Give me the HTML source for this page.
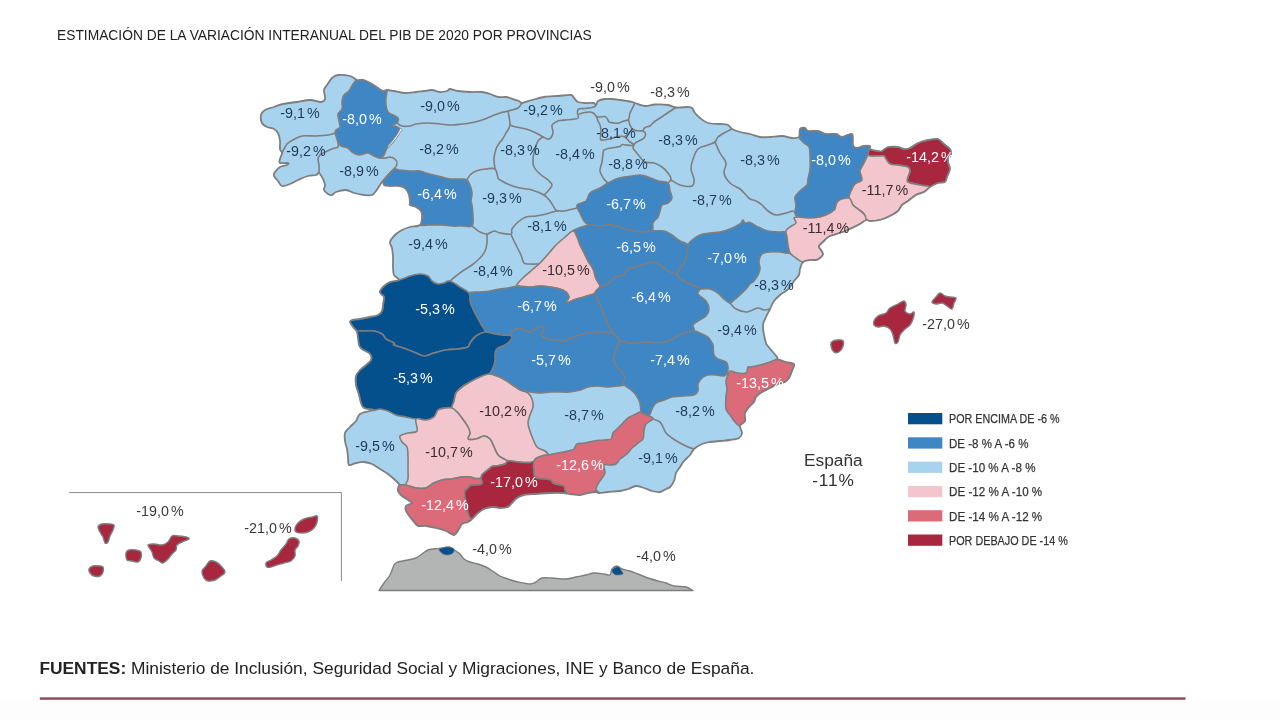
<!DOCTYPE html>
<html><head><meta charset="utf-8"><title>PIB 2020</title>
<style>
html,body{margin:0;padding:0;background:#fff;}
body{width:1280px;height:720px;overflow:hidden;position:relative;font-family:"Liberation Sans",sans-serif;}
svg{position:absolute;left:0;top:0;will-change:transform;}
text{font-family:"Liberation Sans",sans-serif;}
</style></head><body>
<svg width="1280" height="720" viewBox="0 0 1280 720">

<rect x="0" y="701" width="1280" height="19" fill="#fdfdfd"/>
<defs><clipPath id="land"><path d="M332.0,78.0C333.8,76.3 335.0,75.3 338.0,75.0C341.0,74.7 346.8,75.2 350.0,76.0C353.2,76.8 354.7,79.3 357.0,80.0C359.3,80.7 361.5,79.3 364.0,80.0C366.5,80.7 369.7,82.7 372.0,84.0C374.3,85.3 376.2,86.8 378.0,88.0C379.8,89.2 381.5,90.7 383.0,91.0C384.5,91.3 385.2,90.0 387.0,90.0C388.8,90.0 391.2,90.5 394.0,91.0C396.8,91.5 400.3,92.8 404.0,93.0C407.7,93.2 412.7,92.3 416.0,92.0C419.3,91.7 421.3,91.3 424.0,91.0C426.7,90.7 429.3,89.8 432.0,90.0C434.7,90.2 437.5,91.8 440.0,92.0C442.5,92.2 445.3,91.5 447.0,91.0C448.7,90.5 448.2,89.0 450.0,89.0C451.8,89.0 454.7,90.5 458.0,91.0C461.3,91.5 466.0,91.8 470.0,92.0C474.0,92.2 478.7,91.7 482.0,92.0C485.3,92.3 487.3,93.2 490.0,94.0C492.7,94.8 495.3,96.5 498.0,97.0C500.7,97.5 504.0,96.8 506.0,97.0C508.0,97.2 507.8,97.3 510.0,98.0C512.2,98.7 517.0,100.2 519.0,101.0C521.0,101.8 519.8,103.2 522.0,103.0C524.2,102.8 528.3,101.0 532.0,100.0C535.7,99.0 539.7,97.7 544.0,97.0C548.3,96.3 553.5,96.3 558.0,96.0C562.5,95.7 568.3,94.7 571.0,95.0C573.7,95.3 572.8,96.8 574.0,98.0C575.2,99.2 576.2,101.2 578.0,102.0C579.8,102.8 582.4,102.8 585.0,103.0C587.6,103.2 591.7,102.7 593.5,103.0C595.3,103.3 595.2,105.3 596.0,105.0C596.8,104.7 596.5,102.0 598.0,101.0C599.5,100.0 602.7,99.3 605.0,99.0C607.3,98.7 609.5,98.8 612.0,99.0C614.5,99.2 617.0,99.6 620.0,100.0C623.0,100.4 627.5,101.0 630.0,101.5C632.5,102.0 632.5,102.2 635.0,103.0C637.5,103.8 641.7,105.8 645.0,106.0C648.3,106.2 651.2,104.7 655.0,104.5C658.8,104.3 664.4,104.5 668.0,105.0C671.6,105.5 673.2,107.2 676.5,107.5C679.8,107.8 685.4,106.9 688.0,107.0C690.6,107.1 690.8,107.0 692.0,108.0C693.2,109.0 693.7,111.3 695.0,113.0C696.3,114.7 697.8,116.3 700.0,118.0C702.2,119.7 704.7,122.0 708.0,123.0C711.3,124.0 716.7,123.7 720.0,124.0C723.3,124.3 726.0,124.2 728.0,125.0C730.0,125.8 730.0,127.8 732.0,129.0C734.0,130.2 737.0,131.2 740.0,132.0C743.0,132.8 746.7,133.2 750.0,134.0C753.3,134.8 756.7,136.5 760.0,137.0C763.3,137.5 766.3,137.2 770.0,137.0C773.7,136.8 778.3,135.8 782.0,136.0C785.7,136.2 789.2,137.8 792.0,138.0C794.8,138.2 797.7,138.5 799.0,137.0C800.3,135.5 799.0,130.5 800.0,129.0C801.0,127.5 803.7,127.7 805.0,128.0C806.3,128.3 805.8,130.5 808.0,131.0C810.2,131.5 815.0,130.5 818.0,131.0C821.0,131.5 823.0,133.5 826.0,134.0C829.0,134.5 833.3,133.5 836.0,134.0C838.7,134.5 839.3,137.0 842.0,137.0C844.7,137.0 850.2,132.7 852.0,134.0C853.8,135.3 852.3,142.7 853.0,145.0C853.7,147.3 854.2,147.8 856.0,148.0C857.8,148.2 861.7,146.3 864.0,146.0C866.3,145.7 869.0,145.5 870.0,146.0C871.0,146.5 868.7,148.2 870.0,149.0C871.3,149.8 876.0,150.7 878.0,151.0C880.0,151.3 880.3,151.7 882.0,151.0C883.7,150.3 885.3,147.7 888.0,147.0C890.7,146.3 895.3,146.7 898.0,147.0C900.7,147.3 902.0,148.8 904.0,149.0C906.0,149.2 907.7,149.0 910.0,148.0C912.3,147.0 915.0,144.3 918.0,143.0C921.0,141.7 924.7,140.7 928.0,140.0C931.3,139.3 935.3,138.3 938.0,139.0C940.7,139.7 942.0,142.3 944.0,144.0C946.0,145.7 948.8,147.3 950.0,149.0C951.2,150.7 951.3,152.0 951.0,154.0C950.7,156.0 948.2,158.5 948.0,161.0C947.8,163.5 950.2,166.3 950.0,169.0C949.8,171.7 947.8,174.8 947.0,177.0C946.2,179.2 946.5,181.0 945.0,182.0C943.5,183.0 940.5,182.2 938.0,183.0C935.5,183.8 932.3,185.5 930.0,187.0C927.7,188.5 926.3,190.7 924.0,192.0C921.7,193.3 918.7,193.5 916.0,195.0C913.3,196.5 910.3,199.3 908.0,201.0C905.7,202.7 903.7,203.3 902.0,205.0C900.3,206.7 900.0,209.2 898.0,211.0C896.0,212.8 893.0,214.5 890.0,216.0C887.0,217.5 883.3,219.2 880.0,220.0C876.7,220.8 872.3,221.0 870.0,221.0C867.7,221.0 867.7,219.5 866.0,220.0C864.3,220.5 862.7,222.5 860.0,224.0C857.3,225.5 853.3,227.5 850.0,229.0C846.7,230.5 843.3,231.8 840.0,233.0C836.7,234.2 832.7,234.7 830.0,236.0C827.3,237.3 825.8,239.3 824.0,241.0C822.2,242.7 819.5,244.5 819.0,246.0C818.5,247.5 820.3,248.7 821.0,250.0C821.7,251.3 823.2,252.7 823.0,254.0C822.8,255.3 821.2,257.0 820.0,258.0C818.8,259.0 817.7,259.7 816.0,260.0C814.3,260.3 812.2,259.7 810.0,260.0C807.8,260.3 804.7,260.5 803.0,262.0C801.3,263.5 800.7,266.8 800.0,269.0C799.3,271.2 800.0,273.0 799.0,275.0C798.0,277.0 795.5,279.0 794.0,281.0C792.5,283.0 791.3,285.3 790.0,287.0C788.7,288.7 787.7,289.7 786.0,291.0C784.3,292.3 782.0,293.3 780.0,295.0C778.0,296.7 775.7,298.7 774.0,301.0C772.3,303.3 771.3,306.3 770.0,309.0C768.7,311.7 767.2,314.3 766.0,317.0C764.8,319.7 763.3,322.0 763.0,325.0C762.7,328.0 763.5,332.0 764.0,335.0C764.5,338.0 765.5,341.3 766.0,343.0C766.5,344.7 766.0,343.7 767.0,345.0C768.0,346.3 770.3,349.0 772.0,351.0C773.7,353.0 776.0,355.6 777.0,357.0C778.0,358.4 776.5,358.6 778.0,359.4C779.5,360.2 783.3,361.2 786.0,362.0C788.7,362.8 793.0,362.5 794.0,364.0C795.0,365.5 792.8,368.7 792.0,371.0C791.2,373.3 790.2,376.2 789.0,378.0C787.8,379.8 786.8,381.0 785.0,382.0C783.2,383.0 780.5,383.0 778.0,384.0C775.5,385.0 772.7,386.7 770.0,388.0C767.3,389.3 764.3,390.5 762.0,392.0C759.7,393.5 757.3,395.3 756.0,397.0C754.7,398.7 755.0,400.5 754.0,402.0C753.0,403.5 751.5,404.2 750.0,406.0C748.5,407.8 745.8,410.5 745.0,413.0C744.2,415.5 745.8,418.8 745.0,421.0C744.2,423.2 740.5,424.0 740.0,426.0C739.5,428.0 742.2,431.0 742.0,433.0C741.8,435.0 741.0,436.8 739.0,438.0C737.0,439.2 733.2,439.5 730.0,440.0C726.8,440.5 723.3,440.7 720.0,441.0C716.7,441.3 713.0,441.5 710.0,442.0C707.0,442.5 704.7,442.8 702.0,444.0C699.3,445.2 696.0,447.2 694.0,449.0C692.0,450.8 691.7,453.0 690.0,455.0C688.3,457.0 685.7,459.0 684.0,461.0C682.3,463.0 681.3,465.0 680.0,467.0C678.7,469.0 677.0,470.7 676.0,473.0C675.0,475.3 675.0,478.7 674.0,481.0C673.0,483.3 671.3,485.7 670.0,487.0C668.7,488.3 667.7,488.2 666.0,489.0C664.3,489.8 662.3,491.7 660.0,492.0C657.7,492.3 654.7,491.7 652.0,491.0C649.3,490.3 646.7,488.8 644.0,488.0C641.3,487.2 638.7,485.8 636.0,486.0C633.3,486.2 630.7,488.2 628.0,489.0C625.3,489.8 623.3,490.5 620.0,491.0C616.7,491.5 611.5,491.7 608.0,492.0C604.5,492.3 601.0,493.0 599.0,493.0C597.0,493.0 597.8,492.0 596.0,492.0C594.2,492.0 590.7,492.5 588.0,493.0C585.3,493.5 583.0,494.8 580.0,495.0C577.0,495.2 572.7,494.3 570.0,494.0C567.3,493.7 567.3,493.2 564.0,493.0C560.7,492.8 554.7,492.8 550.0,493.0C545.3,493.2 540.3,493.7 536.0,494.0C531.7,494.3 527.2,494.3 524.0,495.0C520.8,495.7 519.0,496.7 517.0,498.0C515.0,499.3 513.5,501.5 512.0,503.0C510.5,504.5 510.0,506.2 508.0,507.0C506.0,507.8 502.7,508.0 500.0,508.0C497.3,508.0 494.7,506.8 492.0,507.0C489.3,507.2 486.3,508.0 484.0,509.0C481.7,510.0 480.0,511.3 478.0,513.0C476.0,514.7 473.7,517.5 472.0,519.0C470.3,520.5 469.7,521.2 468.0,522.0C466.3,522.8 463.5,522.8 462.0,524.0C460.5,525.2 460.3,527.2 459.0,529.0C457.7,530.8 456.2,534.7 454.0,535.0C451.8,535.3 449.0,532.2 446.0,531.0C443.0,529.8 439.3,528.8 436.0,528.0C432.7,527.2 429.0,526.3 426.0,526.0C423.0,525.7 420.0,526.7 418.0,526.0C416.0,525.3 415.3,523.5 414.0,522.0C412.7,520.5 411.3,518.8 410.0,517.0C408.7,515.2 406.7,512.8 406.0,511.0C405.3,509.2 405.0,507.3 406.0,506.0C407.0,504.7 411.7,504.0 412.0,503.0C412.3,502.0 409.7,501.2 408.0,500.0C406.3,498.8 403.7,497.5 402.0,496.0C400.3,494.5 398.5,492.8 398.0,491.0C397.5,489.2 398.7,486.0 399.0,485.0C399.3,484.0 400.8,486.0 400.0,485.0C399.2,484.0 396.0,480.8 394.0,479.0C392.0,477.2 390.3,475.7 388.0,474.0C385.7,472.3 382.7,470.7 380.0,469.0C377.3,467.3 374.7,465.2 372.0,464.0C369.3,462.8 366.7,462.2 364.0,462.0C361.3,461.8 358.5,462.5 356.0,463.0C353.5,463.5 350.3,466.0 349.0,465.0C347.7,464.0 348.3,459.7 348.0,457.0C347.7,454.3 347.5,451.7 347.0,449.0C346.5,446.3 345.3,443.7 345.0,441.0C344.7,438.3 344.2,435.3 345.0,433.0C345.8,430.7 348.2,429.0 350.0,427.0C351.8,425.0 354.3,423.2 356.0,421.0C357.7,418.8 357.7,415.7 360.0,414.0C362.3,412.3 367.7,411.7 370.0,411.0C372.3,410.3 375.0,410.5 374.0,410.0C373.0,409.5 366.2,409.2 364.0,408.0C361.8,406.8 361.8,405.2 361.0,403.0C360.2,400.8 359.8,398.0 359.0,395.0C358.2,392.0 356.5,388.2 356.0,385.0C355.5,381.8 355.3,378.5 356.0,376.0C356.7,373.5 358.3,371.8 360.0,370.0C361.7,368.2 364.2,366.7 366.0,365.0C367.8,363.3 370.3,361.8 371.0,360.0C371.7,358.2 371.5,355.8 370.0,354.0C368.5,352.2 363.8,350.5 362.0,349.0C360.2,347.5 359.8,347.8 359.0,345.0C358.2,342.2 358.0,335.0 357.0,332.0C356.0,329.0 354.2,328.7 353.0,327.0C351.8,325.3 350.2,323.2 350.0,322.0C349.8,320.8 350.3,320.5 352.0,320.0C353.7,319.5 357.0,319.5 360.0,319.0C363.0,318.5 367.0,317.7 370.0,317.0C373.0,316.3 376.0,316.0 378.0,315.0C380.0,314.0 381.2,312.7 382.0,311.0C382.8,309.3 382.7,307.3 383.0,305.0C383.3,302.7 384.3,298.8 384.0,297.0C383.7,295.2 381.7,295.0 381.0,294.0C380.3,293.0 379.5,292.3 380.0,291.0C380.5,289.7 382.3,287.5 384.0,286.0C385.7,284.5 387.5,283.0 390.0,282.0C392.5,281.0 398.3,281.2 399.0,280.0C399.7,278.8 395.0,277.2 394.0,275.0C393.0,272.8 393.2,270.0 393.0,267.0C392.8,264.0 393.2,260.2 393.0,257.0C392.8,253.8 392.5,250.5 392.0,248.0C391.5,245.5 389.5,244.2 390.0,242.0C390.5,239.8 393.0,237.0 395.0,235.0C397.0,233.0 399.5,231.3 402.0,230.0C404.5,228.7 407.0,227.8 410.0,227.0C413.0,226.2 418.0,226.7 420.0,225.0C422.0,223.3 421.8,219.3 422.0,217.0C422.2,214.7 422.0,212.7 421.0,211.0C420.0,209.3 417.8,208.0 416.0,207.0C414.2,206.0 411.0,205.7 410.0,205.0C409.0,204.3 410.2,204.7 410.0,203.0C409.8,201.3 409.7,197.3 409.0,195.0C408.3,192.7 407.5,190.5 406.0,189.0C404.5,187.5 402.7,186.5 400.0,186.0C397.3,185.5 392.7,186.2 390.0,186.0C387.3,185.8 385.2,185.8 384.0,185.0C382.8,184.2 383.7,181.0 383.0,181.0C382.3,181.0 381.2,183.3 380.0,185.0C378.8,186.7 377.3,189.3 376.0,191.0C374.7,192.7 374.0,194.3 372.0,195.0C370.0,195.7 367.0,195.3 364.0,195.0C361.0,194.7 357.0,193.8 354.0,193.0C351.0,192.2 349.0,190.2 346.0,190.0C343.0,189.8 338.3,191.2 336.0,192.0C333.7,192.8 333.3,194.7 332.0,195.0C330.7,195.3 329.3,194.8 328.0,194.0C326.7,193.2 324.5,191.5 324.0,190.0C323.5,188.5 325.2,186.8 325.0,185.0C324.8,183.2 324.0,181.0 323.0,179.0C322.0,177.0 320.2,173.7 319.0,173.0C317.8,172.3 317.8,174.5 316.0,175.0C314.2,175.5 311.0,175.2 308.0,176.0C305.0,176.8 301.0,178.7 298.0,180.0C295.0,181.3 292.7,183.0 290.0,184.0C287.3,185.0 284.0,186.5 282.0,186.0C280.0,185.5 279.3,182.7 278.0,181.0C276.7,179.3 274.5,177.5 274.0,176.0C273.5,174.5 274.0,173.5 275.0,172.0C276.0,170.5 278.0,168.2 280.0,167.0C282.0,165.8 285.7,165.7 287.0,165.0C288.3,164.3 289.2,163.3 288.0,163.0C286.8,162.7 281.3,163.7 280.0,163.0C278.7,162.3 279.7,160.7 280.0,159.0C280.3,157.3 282.0,154.7 282.0,153.0C282.0,151.3 280.3,151.0 280.0,149.0C279.7,147.0 280.3,143.7 280.0,141.0C279.7,138.3 279.0,135.0 278.0,133.0C277.0,131.0 275.8,130.0 274.0,129.0C272.2,128.0 269.0,128.0 267.0,127.0C265.0,126.0 263.0,125.0 262.0,123.0C261.0,121.0 260.5,117.2 261.0,115.0C261.5,112.8 262.8,111.3 265.0,110.0C267.2,108.7 271.0,108.0 274.0,107.0C277.0,106.0 279.2,104.8 283.0,104.0C286.8,103.2 292.5,102.7 297.0,102.0C301.5,101.3 306.0,100.0 310.0,100.0C314.0,100.0 318.5,102.2 321.0,102.0C323.5,101.8 324.5,101.0 325.0,99.0C325.5,97.0 323.7,92.3 324.0,90.0C324.3,87.7 325.7,87.0 327.0,85.0C328.3,83.0 330.2,79.7 332.0,78.0Z"/></clipPath></defs>
<g clip-path="url(#land)" stroke="#7e7e7e" stroke-width="1.6" stroke-linejoin="round" stroke-linecap="round">
<path d="M332.0,78.0C333.8,76.3 335.0,75.3 338.0,75.0C341.0,74.7 346.8,75.2 350.0,76.0C353.2,76.8 354.7,79.3 357.0,80.0C359.3,80.7 361.5,79.3 364.0,80.0C366.5,80.7 369.7,82.7 372.0,84.0C374.3,85.3 376.2,86.8 378.0,88.0C379.8,89.2 381.5,90.7 383.0,91.0C384.5,91.3 385.2,90.0 387.0,90.0C388.8,90.0 391.2,90.5 394.0,91.0C396.8,91.5 400.3,92.8 404.0,93.0C407.7,93.2 412.7,92.3 416.0,92.0C419.3,91.7 421.3,91.3 424.0,91.0C426.7,90.7 429.3,89.8 432.0,90.0C434.7,90.2 437.5,91.8 440.0,92.0C442.5,92.2 445.3,91.5 447.0,91.0C448.7,90.5 448.2,89.0 450.0,89.0C451.8,89.0 454.7,90.5 458.0,91.0C461.3,91.5 466.0,91.8 470.0,92.0C474.0,92.2 478.7,91.7 482.0,92.0C485.3,92.3 487.3,93.2 490.0,94.0C492.7,94.8 495.3,96.5 498.0,97.0C500.7,97.5 504.0,96.8 506.0,97.0C508.0,97.2 507.8,97.3 510.0,98.0C512.2,98.7 517.0,100.2 519.0,101.0C521.0,101.8 519.8,103.2 522.0,103.0C524.2,102.8 528.3,101.0 532.0,100.0C535.7,99.0 539.7,97.7 544.0,97.0C548.3,96.3 553.5,96.3 558.0,96.0C562.5,95.7 568.3,94.7 571.0,95.0C573.7,95.3 572.8,96.8 574.0,98.0C575.2,99.2 576.2,101.2 578.0,102.0C579.8,102.8 582.4,102.8 585.0,103.0C587.6,103.2 591.7,102.7 593.5,103.0C595.3,103.3 595.2,105.3 596.0,105.0C596.8,104.7 596.5,102.0 598.0,101.0C599.5,100.0 602.7,99.3 605.0,99.0C607.3,98.7 609.5,98.8 612.0,99.0C614.5,99.2 617.0,99.6 620.0,100.0C623.0,100.4 627.5,101.0 630.0,101.5C632.5,102.0 632.5,102.2 635.0,103.0C637.5,103.8 641.7,105.8 645.0,106.0C648.3,106.2 651.2,104.7 655.0,104.5C658.8,104.3 664.4,104.5 668.0,105.0C671.6,105.5 673.2,107.2 676.5,107.5C679.8,107.8 685.4,106.9 688.0,107.0C690.6,107.1 690.8,107.0 692.0,108.0C693.2,109.0 693.7,111.3 695.0,113.0C696.3,114.7 697.8,116.3 700.0,118.0C702.2,119.7 704.7,122.0 708.0,123.0C711.3,124.0 716.7,123.7 720.0,124.0C723.3,124.3 726.0,124.2 728.0,125.0C730.0,125.8 730.0,127.8 732.0,129.0C734.0,130.2 737.0,131.2 740.0,132.0C743.0,132.8 746.7,133.2 750.0,134.0C753.3,134.8 756.7,136.5 760.0,137.0C763.3,137.5 766.3,137.2 770.0,137.0C773.7,136.8 778.3,135.8 782.0,136.0C785.7,136.2 789.2,137.8 792.0,138.0C794.8,138.2 797.7,138.5 799.0,137.0C800.3,135.5 799.0,130.5 800.0,129.0C801.0,127.5 803.7,127.7 805.0,128.0C806.3,128.3 805.8,130.5 808.0,131.0C810.2,131.5 815.0,130.5 818.0,131.0C821.0,131.5 823.0,133.5 826.0,134.0C829.0,134.5 833.3,133.5 836.0,134.0C838.7,134.5 839.3,137.0 842.0,137.0C844.7,137.0 850.2,132.7 852.0,134.0C853.8,135.3 852.3,142.7 853.0,145.0C853.7,147.3 854.2,147.8 856.0,148.0C857.8,148.2 861.7,146.3 864.0,146.0C866.3,145.7 869.0,145.5 870.0,146.0C871.0,146.5 868.7,148.2 870.0,149.0C871.3,149.8 876.0,150.7 878.0,151.0C880.0,151.3 880.3,151.7 882.0,151.0C883.7,150.3 885.3,147.7 888.0,147.0C890.7,146.3 895.3,146.7 898.0,147.0C900.7,147.3 902.0,148.8 904.0,149.0C906.0,149.2 907.7,149.0 910.0,148.0C912.3,147.0 915.0,144.3 918.0,143.0C921.0,141.7 924.7,140.7 928.0,140.0C931.3,139.3 935.3,138.3 938.0,139.0C940.7,139.7 942.0,142.3 944.0,144.0C946.0,145.7 948.8,147.3 950.0,149.0C951.2,150.7 951.3,152.0 951.0,154.0C950.7,156.0 948.2,158.5 948.0,161.0C947.8,163.5 950.2,166.3 950.0,169.0C949.8,171.7 947.8,174.8 947.0,177.0C946.2,179.2 946.5,181.0 945.0,182.0C943.5,183.0 940.5,182.2 938.0,183.0C935.5,183.8 932.3,185.5 930.0,187.0C927.7,188.5 926.3,190.7 924.0,192.0C921.7,193.3 918.7,193.5 916.0,195.0C913.3,196.5 910.3,199.3 908.0,201.0C905.7,202.7 903.7,203.3 902.0,205.0C900.3,206.7 900.0,209.2 898.0,211.0C896.0,212.8 893.0,214.5 890.0,216.0C887.0,217.5 883.3,219.2 880.0,220.0C876.7,220.8 872.3,221.0 870.0,221.0C867.7,221.0 867.7,219.5 866.0,220.0C864.3,220.5 862.7,222.5 860.0,224.0C857.3,225.5 853.3,227.5 850.0,229.0C846.7,230.5 843.3,231.8 840.0,233.0C836.7,234.2 832.7,234.7 830.0,236.0C827.3,237.3 825.8,239.3 824.0,241.0C822.2,242.7 819.5,244.5 819.0,246.0C818.5,247.5 820.3,248.7 821.0,250.0C821.7,251.3 823.2,252.7 823.0,254.0C822.8,255.3 821.2,257.0 820.0,258.0C818.8,259.0 817.7,259.7 816.0,260.0C814.3,260.3 812.2,259.7 810.0,260.0C807.8,260.3 804.7,260.5 803.0,262.0C801.3,263.5 800.7,266.8 800.0,269.0C799.3,271.2 800.0,273.0 799.0,275.0C798.0,277.0 795.5,279.0 794.0,281.0C792.5,283.0 791.3,285.3 790.0,287.0C788.7,288.7 787.7,289.7 786.0,291.0C784.3,292.3 782.0,293.3 780.0,295.0C778.0,296.7 775.7,298.7 774.0,301.0C772.3,303.3 771.3,306.3 770.0,309.0C768.7,311.7 767.2,314.3 766.0,317.0C764.8,319.7 763.3,322.0 763.0,325.0C762.7,328.0 763.5,332.0 764.0,335.0C764.5,338.0 765.5,341.3 766.0,343.0C766.5,344.7 766.0,343.7 767.0,345.0C768.0,346.3 770.3,349.0 772.0,351.0C773.7,353.0 776.0,355.6 777.0,357.0C778.0,358.4 776.5,358.6 778.0,359.4C779.5,360.2 783.3,361.2 786.0,362.0C788.7,362.8 793.0,362.5 794.0,364.0C795.0,365.5 792.8,368.7 792.0,371.0C791.2,373.3 790.2,376.2 789.0,378.0C787.8,379.8 786.8,381.0 785.0,382.0C783.2,383.0 780.5,383.0 778.0,384.0C775.5,385.0 772.7,386.7 770.0,388.0C767.3,389.3 764.3,390.5 762.0,392.0C759.7,393.5 757.3,395.3 756.0,397.0C754.7,398.7 755.0,400.5 754.0,402.0C753.0,403.5 751.5,404.2 750.0,406.0C748.5,407.8 745.8,410.5 745.0,413.0C744.2,415.5 745.8,418.8 745.0,421.0C744.2,423.2 740.5,424.0 740.0,426.0C739.5,428.0 742.2,431.0 742.0,433.0C741.8,435.0 741.0,436.8 739.0,438.0C737.0,439.2 733.2,439.5 730.0,440.0C726.8,440.5 723.3,440.7 720.0,441.0C716.7,441.3 713.0,441.5 710.0,442.0C707.0,442.5 704.7,442.8 702.0,444.0C699.3,445.2 696.0,447.2 694.0,449.0C692.0,450.8 691.7,453.0 690.0,455.0C688.3,457.0 685.7,459.0 684.0,461.0C682.3,463.0 681.3,465.0 680.0,467.0C678.7,469.0 677.0,470.7 676.0,473.0C675.0,475.3 675.0,478.7 674.0,481.0C673.0,483.3 671.3,485.7 670.0,487.0C668.7,488.3 667.7,488.2 666.0,489.0C664.3,489.8 662.3,491.7 660.0,492.0C657.7,492.3 654.7,491.7 652.0,491.0C649.3,490.3 646.7,488.8 644.0,488.0C641.3,487.2 638.7,485.8 636.0,486.0C633.3,486.2 630.7,488.2 628.0,489.0C625.3,489.8 623.3,490.5 620.0,491.0C616.7,491.5 611.5,491.7 608.0,492.0C604.5,492.3 601.0,493.0 599.0,493.0C597.0,493.0 597.8,492.0 596.0,492.0C594.2,492.0 590.7,492.5 588.0,493.0C585.3,493.5 583.0,494.8 580.0,495.0C577.0,495.2 572.7,494.3 570.0,494.0C567.3,493.7 567.3,493.2 564.0,493.0C560.7,492.8 554.7,492.8 550.0,493.0C545.3,493.2 540.3,493.7 536.0,494.0C531.7,494.3 527.2,494.3 524.0,495.0C520.8,495.7 519.0,496.7 517.0,498.0C515.0,499.3 513.5,501.5 512.0,503.0C510.5,504.5 510.0,506.2 508.0,507.0C506.0,507.8 502.7,508.0 500.0,508.0C497.3,508.0 494.7,506.8 492.0,507.0C489.3,507.2 486.3,508.0 484.0,509.0C481.7,510.0 480.0,511.3 478.0,513.0C476.0,514.7 473.7,517.5 472.0,519.0C470.3,520.5 469.7,521.2 468.0,522.0C466.3,522.8 463.5,522.8 462.0,524.0C460.5,525.2 460.3,527.2 459.0,529.0C457.7,530.8 456.2,534.7 454.0,535.0C451.8,535.3 449.0,532.2 446.0,531.0C443.0,529.8 439.3,528.8 436.0,528.0C432.7,527.2 429.0,526.3 426.0,526.0C423.0,525.7 420.0,526.7 418.0,526.0C416.0,525.3 415.3,523.5 414.0,522.0C412.7,520.5 411.3,518.8 410.0,517.0C408.7,515.2 406.7,512.8 406.0,511.0C405.3,509.2 405.0,507.3 406.0,506.0C407.0,504.7 411.7,504.0 412.0,503.0C412.3,502.0 409.7,501.2 408.0,500.0C406.3,498.8 403.7,497.5 402.0,496.0C400.3,494.5 398.5,492.8 398.0,491.0C397.5,489.2 398.7,486.0 399.0,485.0C399.3,484.0 400.8,486.0 400.0,485.0C399.2,484.0 396.0,480.8 394.0,479.0C392.0,477.2 390.3,475.7 388.0,474.0C385.7,472.3 382.7,470.7 380.0,469.0C377.3,467.3 374.7,465.2 372.0,464.0C369.3,462.8 366.7,462.2 364.0,462.0C361.3,461.8 358.5,462.5 356.0,463.0C353.5,463.5 350.3,466.0 349.0,465.0C347.7,464.0 348.3,459.7 348.0,457.0C347.7,454.3 347.5,451.7 347.0,449.0C346.5,446.3 345.3,443.7 345.0,441.0C344.7,438.3 344.2,435.3 345.0,433.0C345.8,430.7 348.2,429.0 350.0,427.0C351.8,425.0 354.3,423.2 356.0,421.0C357.7,418.8 357.7,415.7 360.0,414.0C362.3,412.3 367.7,411.7 370.0,411.0C372.3,410.3 375.0,410.5 374.0,410.0C373.0,409.5 366.2,409.2 364.0,408.0C361.8,406.8 361.8,405.2 361.0,403.0C360.2,400.8 359.8,398.0 359.0,395.0C358.2,392.0 356.5,388.2 356.0,385.0C355.5,381.8 355.3,378.5 356.0,376.0C356.7,373.5 358.3,371.8 360.0,370.0C361.7,368.2 364.2,366.7 366.0,365.0C367.8,363.3 370.3,361.8 371.0,360.0C371.7,358.2 371.5,355.8 370.0,354.0C368.5,352.2 363.8,350.5 362.0,349.0C360.2,347.5 359.8,347.8 359.0,345.0C358.2,342.2 358.0,335.0 357.0,332.0C356.0,329.0 354.2,328.7 353.0,327.0C351.8,325.3 350.2,323.2 350.0,322.0C349.8,320.8 350.3,320.5 352.0,320.0C353.7,319.5 357.0,319.5 360.0,319.0C363.0,318.5 367.0,317.7 370.0,317.0C373.0,316.3 376.0,316.0 378.0,315.0C380.0,314.0 381.2,312.7 382.0,311.0C382.8,309.3 382.7,307.3 383.0,305.0C383.3,302.7 384.3,298.8 384.0,297.0C383.7,295.2 381.7,295.0 381.0,294.0C380.3,293.0 379.5,292.3 380.0,291.0C380.5,289.7 382.3,287.5 384.0,286.0C385.7,284.5 387.5,283.0 390.0,282.0C392.5,281.0 398.3,281.2 399.0,280.0C399.7,278.8 395.0,277.2 394.0,275.0C393.0,272.8 393.2,270.0 393.0,267.0C392.8,264.0 393.2,260.2 393.0,257.0C392.8,253.8 392.5,250.5 392.0,248.0C391.5,245.5 389.5,244.2 390.0,242.0C390.5,239.8 393.0,237.0 395.0,235.0C397.0,233.0 399.5,231.3 402.0,230.0C404.5,228.7 407.0,227.8 410.0,227.0C413.0,226.2 418.0,226.7 420.0,225.0C422.0,223.3 421.8,219.3 422.0,217.0C422.2,214.7 422.0,212.7 421.0,211.0C420.0,209.3 417.8,208.0 416.0,207.0C414.2,206.0 411.0,205.7 410.0,205.0C409.0,204.3 410.2,204.7 410.0,203.0C409.8,201.3 409.7,197.3 409.0,195.0C408.3,192.7 407.5,190.5 406.0,189.0C404.5,187.5 402.7,186.5 400.0,186.0C397.3,185.5 392.7,186.2 390.0,186.0C387.3,185.8 385.2,185.8 384.0,185.0C382.8,184.2 383.7,181.0 383.0,181.0C382.3,181.0 381.2,183.3 380.0,185.0C378.8,186.7 377.3,189.3 376.0,191.0C374.7,192.7 374.0,194.3 372.0,195.0C370.0,195.7 367.0,195.3 364.0,195.0C361.0,194.7 357.0,193.8 354.0,193.0C351.0,192.2 349.0,190.2 346.0,190.0C343.0,189.8 338.3,191.2 336.0,192.0C333.7,192.8 333.3,194.7 332.0,195.0C330.7,195.3 329.3,194.8 328.0,194.0C326.7,193.2 324.5,191.5 324.0,190.0C323.5,188.5 325.2,186.8 325.0,185.0C324.8,183.2 324.0,181.0 323.0,179.0C322.0,177.0 320.2,173.7 319.0,173.0C317.8,172.3 317.8,174.5 316.0,175.0C314.2,175.5 311.0,175.2 308.0,176.0C305.0,176.8 301.0,178.7 298.0,180.0C295.0,181.3 292.7,183.0 290.0,184.0C287.3,185.0 284.0,186.5 282.0,186.0C280.0,185.5 279.3,182.7 278.0,181.0C276.7,179.3 274.5,177.5 274.0,176.0C273.5,174.5 274.0,173.5 275.0,172.0C276.0,170.5 278.0,168.2 280.0,167.0C282.0,165.8 285.7,165.7 287.0,165.0C288.3,164.3 289.2,163.3 288.0,163.0C286.8,162.7 281.3,163.7 280.0,163.0C278.7,162.3 279.7,160.7 280.0,159.0C280.3,157.3 282.0,154.7 282.0,153.0C282.0,151.3 280.3,151.0 280.0,149.0C279.7,147.0 280.3,143.7 280.0,141.0C279.7,138.3 279.0,135.0 278.0,133.0C277.0,131.0 275.8,130.0 274.0,129.0C272.2,128.0 269.0,128.0 267.0,127.0C265.0,126.0 263.0,125.0 262.0,123.0C261.0,121.0 260.5,117.2 261.0,115.0C261.5,112.8 262.8,111.3 265.0,110.0C267.2,108.7 271.0,108.0 274.0,107.0C277.0,106.0 279.2,104.8 283.0,104.0C286.8,103.2 292.5,102.7 297.0,102.0C301.5,101.3 306.0,100.0 310.0,100.0C314.0,100.0 318.5,102.2 321.0,102.0C323.5,101.8 324.5,101.0 325.0,99.0C325.5,97.0 323.7,92.3 324.0,90.0C324.3,87.7 325.7,87.0 327.0,85.0C328.3,83.0 330.2,79.7 332.0,78.0Z" fill="#a8d3ef" stroke="none"/>
<path d="M357.0,80.0C358.8,79.3 361.5,79.3 364.0,80.0C366.5,80.7 369.7,82.7 372.0,84.0C374.3,85.3 376.2,86.8 378.0,88.0C379.8,89.2 381.5,90.7 383.0,91.0C384.5,91.3 386.5,89.0 387.0,90.0C387.5,91.0 386.2,94.5 386.0,97.0C385.8,99.5 385.7,102.5 386.0,105.0C386.3,107.5 386.8,110.3 388.0,112.0C389.2,113.7 391.3,114.0 393.0,115.0C394.7,116.0 397.3,116.7 398.0,118.0C398.7,119.3 398.0,121.8 397.0,123.0C396.0,124.2 391.7,124.2 392.0,125.0C392.3,125.8 398.0,126.5 399.0,128.0C400.0,129.5 399.0,131.7 398.0,134.0C397.0,136.3 394.8,139.7 393.0,142.0C391.2,144.3 388.5,145.8 387.0,148.0C385.5,150.2 385.2,153.3 384.0,155.0C382.8,156.7 381.7,157.8 380.0,158.0C378.3,158.2 376.0,156.8 374.0,156.0C372.0,155.2 370.5,153.2 368.0,153.0C365.5,152.8 361.7,155.2 359.0,155.0C356.3,154.8 353.8,153.2 352.0,152.0C350.2,150.8 349.8,149.0 348.0,148.0C346.2,147.0 342.7,147.0 341.0,146.0C339.3,145.0 338.8,143.7 338.0,142.0C337.2,140.3 336.5,137.5 336.0,136.0C335.5,134.5 335.0,134.0 335.0,133.0C335.0,132.0 335.2,131.0 336.0,130.0C336.8,129.0 339.5,128.5 340.0,127.0C340.5,125.5 339.3,123.2 339.0,121.0C338.7,118.8 337.5,116.0 338.0,114.0C338.5,112.0 341.3,111.2 342.0,109.0C342.7,106.8 341.7,103.3 342.0,101.0C342.3,98.7 342.8,96.7 344.0,95.0C345.2,93.3 347.5,92.8 349.0,91.0C350.5,89.2 351.7,85.8 353.0,84.0C354.3,82.2 355.2,80.7 357.0,80.0Z" fill="#3f86c5"/>
<path d="M399.0,170.0C401.6,170.3 406.5,170.8 410.0,171.0C413.5,171.2 417.3,170.7 420.0,171.0C422.7,171.3 423.7,172.3 426.0,173.0C428.3,173.7 431.3,174.3 434.0,175.0C436.7,175.7 439.3,176.3 442.0,177.0C444.7,177.7 446.7,178.7 450.0,179.0C453.3,179.3 459.2,178.8 462.0,179.0C464.8,179.2 465.7,179.0 467.0,180.0C468.3,181.0 469.2,182.8 470.0,185.0C470.8,187.2 471.8,190.3 472.0,193.0C472.2,195.7 471.0,199.0 471.0,201.0C471.0,203.0 471.7,202.3 472.0,205.0C472.3,207.7 473.0,213.5 473.0,217.0C473.0,220.5 473.8,224.5 472.0,226.0C470.2,227.5 465.3,226.0 462.0,226.0C458.7,226.0 455.3,226.2 452.0,226.0C448.7,225.8 445.7,225.2 442.0,225.0C438.3,224.8 433.7,225.0 430.0,225.0C426.3,225.0 421.3,226.3 420.0,225.0C418.7,223.7 421.8,219.3 422.0,217.0C422.2,214.7 422.0,212.7 421.0,211.0C420.0,209.3 417.8,208.0 416.0,207.0C414.2,206.0 411.0,205.7 410.0,205.0C409.0,204.3 410.2,204.7 410.0,203.0C409.8,201.3 409.7,197.3 409.0,195.0C408.3,192.7 407.5,190.5 406.0,189.0C404.5,187.5 402.7,186.5 400.0,186.0C397.3,185.5 392.7,186.2 390.0,186.0C387.3,185.8 385.2,185.8 384.0,185.0C382.8,184.2 382.3,182.7 383.0,181.0C383.7,179.3 386.1,177.0 388.0,175.0C389.9,173.0 392.6,169.8 394.4,169.0C396.2,168.2 396.4,169.7 399.0,170.0Z" fill="#3f86c5"/>
<path d="M608.0,183.0C610.7,181.5 613.3,180.0 616.0,179.0C618.7,178.0 621.3,177.5 624.0,177.0C626.7,176.5 629.3,176.3 632.0,176.0C634.7,175.7 637.3,174.8 640.0,175.0C642.7,175.2 645.0,176.0 648.0,177.0C651.0,178.0 654.7,180.0 658.0,181.0C661.3,182.0 666.0,181.3 668.0,183.0C670.0,184.7 669.3,188.5 670.0,191.0C670.7,193.5 672.3,196.0 672.0,198.0C671.7,200.0 669.7,201.8 668.0,203.0C666.3,204.2 663.3,203.7 662.0,205.0C660.7,206.3 660.7,209.0 660.0,211.0C659.3,213.0 659.2,215.0 658.0,217.0C656.8,219.0 654.0,220.7 653.0,223.0C652.0,225.3 654.2,229.5 652.0,231.0C649.8,232.5 644.0,232.2 640.0,232.0C636.0,231.8 631.3,230.8 628.0,230.0C624.7,229.2 623.0,227.8 620.0,227.0C617.0,226.2 613.3,225.2 610.0,225.0C606.7,224.8 603.5,226.0 600.0,226.0C596.5,226.0 591.7,225.8 589.0,225.0C586.3,224.2 585.5,223.0 584.0,221.0C582.5,219.0 581.2,215.7 580.0,213.0C578.8,210.3 576.0,207.0 577.0,205.0C578.0,203.0 583.8,203.0 586.0,201.0C588.2,199.0 587.7,195.2 590.0,193.0C592.3,190.8 597.0,189.7 600.0,188.0C603.0,186.3 605.3,184.5 608.0,183.0Z" fill="#3f86c5"/>
<path d="M573.0,231.0C575.0,229.0 584.5,225.8 589.0,225.0C593.5,224.2 596.5,226.0 600.0,226.0C603.5,226.0 606.7,224.8 610.0,225.0C613.3,225.2 617.0,226.2 620.0,227.0C623.0,227.8 624.7,229.2 628.0,230.0C631.3,230.8 636.0,231.8 640.0,232.0C644.0,232.2 648.0,231.2 652.0,231.0C656.0,230.8 660.7,230.3 664.0,231.0C667.3,231.7 669.3,233.3 672.0,235.0C674.7,236.7 677.3,239.3 680.0,241.0C682.7,242.7 686.8,243.0 688.0,245.0C689.2,247.0 687.7,250.0 687.0,253.0C686.3,256.0 685.3,260.3 684.0,263.0C682.7,265.7 680.2,267.0 679.0,269.0C677.8,271.0 678.5,274.5 677.0,275.0C675.5,275.5 672.5,273.3 670.0,272.0C667.5,270.7 664.7,268.7 662.0,267.0C659.3,265.3 656.7,262.5 654.0,262.0C651.3,261.5 649.0,263.2 646.0,264.0C643.0,264.8 639.0,266.2 636.0,267.0C633.0,267.8 630.0,267.7 628.0,269.0C626.0,270.3 626.0,273.7 624.0,275.0C622.0,276.3 618.3,275.8 616.0,277.0C613.7,278.2 612.0,280.5 610.0,282.0C608.0,283.5 605.7,285.2 604.0,286.0C602.3,286.8 601.3,288.2 600.0,287.0C598.7,285.8 597.2,282.0 596.0,279.0C594.8,276.0 594.3,272.0 593.0,269.0C591.7,266.0 589.5,263.7 588.0,261.0C586.5,258.3 585.3,255.7 584.0,253.0C582.7,250.3 581.2,247.7 580.0,245.0C578.8,242.3 578.2,239.3 577.0,237.0C575.8,234.7 571.0,233.0 573.0,231.0Z" fill="#3f86c5"/>
<path d="M573.0,231.0C575.2,230.8 575.8,234.7 577.0,237.0C578.2,239.3 578.8,242.3 580.0,245.0C581.2,247.7 582.7,250.3 584.0,253.0C585.3,255.7 586.5,258.3 588.0,261.0C589.5,263.7 591.7,266.0 593.0,269.0C594.3,272.0 594.8,276.0 596.0,279.0C597.2,282.0 600.3,284.5 600.0,287.0C599.7,289.5 596.7,292.3 594.0,294.0C591.3,295.7 587.3,296.0 584.0,297.0C580.7,298.0 577.0,299.0 574.0,300.0C571.0,301.0 566.8,303.5 566.0,303.0C565.2,302.5 569.0,298.8 569.0,297.0C569.0,295.2 567.5,293.3 566.0,292.0C564.5,290.7 562.7,289.8 560.0,289.0C557.3,288.2 553.3,287.5 550.0,287.0C546.7,286.5 543.3,286.0 540.0,286.0C536.7,286.0 533.7,287.0 530.0,287.0C526.3,287.0 520.0,286.7 518.0,286.0C516.0,285.3 517.0,284.5 518.0,283.0C519.0,281.5 521.7,279.2 524.0,277.0C526.3,274.8 529.3,272.3 532.0,270.0C534.7,267.7 537.0,266.0 540.0,263.0C543.0,260.0 547.3,255.0 550.0,252.0C552.7,249.0 553.7,247.3 556.0,245.0C558.3,242.7 561.2,240.3 564.0,238.0C566.8,235.7 570.8,231.2 573.0,231.0Z" fill="#f3c5cc"/>
<path d="M688.0,245.0C688.8,242.8 690.0,241.7 692.0,240.0C694.0,238.3 697.0,236.2 700.0,235.0C703.0,233.8 706.7,233.5 710.0,233.0C713.3,232.5 716.7,232.7 720.0,232.0C723.3,231.3 726.7,230.3 730.0,229.0C733.3,227.7 737.8,225.5 740.0,224.0C742.2,222.5 742.2,220.2 743.0,220.0C743.8,219.8 743.8,222.6 745.0,223.0C746.2,223.4 747.8,221.7 750.0,222.4C752.2,223.1 755.0,225.6 758.0,227.0C761.0,228.4 764.7,230.2 768.0,231.0C771.3,231.8 775.0,231.8 778.0,232.0C781.0,232.2 784.5,231.2 786.0,232.0C787.5,232.8 786.7,234.8 787.0,237.0C787.3,239.2 787.5,242.3 788.0,245.0C788.5,247.7 791.3,251.8 790.0,253.0C788.7,254.2 783.3,252.2 780.0,252.0C776.7,251.8 773.0,251.7 770.0,252.0C767.0,252.3 763.8,252.5 762.0,254.0C760.2,255.5 759.3,258.5 759.0,261.0C758.7,263.5 760.2,266.7 760.0,269.0C759.8,271.3 759.0,273.0 758.0,275.0C757.0,277.0 755.3,279.5 754.0,281.0C752.7,282.5 751.3,282.7 750.0,284.0C748.7,285.3 747.7,287.2 746.0,289.0C744.3,290.8 742.0,293.2 740.0,295.0C738.0,296.8 735.7,298.7 734.0,300.0C732.3,301.3 731.7,303.2 730.0,303.0C728.3,302.8 726.0,300.7 724.0,299.0C722.0,297.3 720.3,294.7 718.0,293.0C715.7,291.3 713.0,289.7 710.0,289.0C707.0,288.3 702.0,289.3 700.0,289.0C698.0,288.7 700.0,288.0 698.0,287.0C696.0,286.0 691.0,284.3 688.0,283.0C685.0,281.7 681.8,280.3 680.0,279.0C678.2,277.7 677.2,276.7 677.0,275.0C676.8,273.3 677.8,271.0 679.0,269.0C680.2,267.0 682.7,265.7 684.0,263.0C685.3,260.3 686.3,256.0 687.0,253.0C687.7,250.0 687.2,247.2 688.0,245.0Z" fill="#3f86c5"/>
<path d="M600.0,287.0C601.7,285.7 602.3,286.8 604.0,286.0C605.7,285.2 608.0,283.5 610.0,282.0C612.0,280.5 613.7,278.2 616.0,277.0C618.3,275.8 622.0,276.3 624.0,275.0C626.0,273.7 626.0,270.3 628.0,269.0C630.0,267.7 633.0,267.8 636.0,267.0C639.0,266.2 643.0,264.8 646.0,264.0C649.0,263.2 651.3,261.5 654.0,262.0C656.7,262.5 659.3,265.3 662.0,267.0C664.7,268.7 667.5,270.7 670.0,272.0C672.5,273.3 675.3,273.8 677.0,275.0C678.7,276.2 678.2,277.7 680.0,279.0C681.8,280.3 685.0,281.7 688.0,283.0C691.0,284.3 696.0,286.0 698.0,287.0C700.0,288.0 700.0,287.8 700.0,289.0C700.0,290.2 697.0,292.0 698.0,294.0C699.0,296.0 704.2,298.5 706.0,301.0C707.8,303.5 709.0,306.5 709.0,309.0C709.0,311.5 707.8,314.0 706.0,316.0C704.2,318.0 700.2,319.5 698.0,321.0C695.8,322.5 693.7,323.3 693.0,325.0C692.3,326.7 695.5,329.7 694.0,331.0C692.5,332.3 687.0,332.0 684.0,333.0C681.0,334.0 678.7,335.7 676.0,337.0C673.3,338.3 671.0,340.0 668.0,341.0C665.0,342.0 661.3,342.8 658.0,343.0C654.7,343.2 651.3,342.0 648.0,342.0C644.7,342.0 641.3,342.8 638.0,343.0C634.7,343.2 631.0,343.3 628.0,343.0C625.0,342.7 622.7,342.8 620.0,341.0C617.3,339.2 614.0,334.7 612.0,332.0C610.0,329.3 609.3,327.8 608.0,325.0C606.7,322.2 605.3,318.3 604.0,315.0C602.7,311.7 601.3,308.2 600.0,305.0C598.7,301.8 597.0,297.8 596.0,296.0C595.0,294.2 593.3,295.5 594.0,294.0C594.7,292.5 598.3,288.3 600.0,287.0Z" fill="#3f86c5"/>
<path d="M469.0,293.0C467.3,294.5 469.5,298.7 470.0,301.0C470.5,303.3 471.0,304.7 472.0,307.0C473.0,309.3 474.5,312.2 476.0,315.0C477.5,317.8 479.5,321.2 481.0,324.0C482.5,326.8 483.0,330.4 485.0,332.0C487.0,333.6 490.2,333.0 493.0,333.5C495.8,334.0 499.2,334.7 502.0,335.0C504.8,335.3 508.2,336.2 510.0,335.5C511.8,334.8 511.5,332.2 513.0,331.0C514.5,329.8 517.2,328.7 519.0,328.5C520.8,328.3 522.2,329.3 524.0,330.0C525.8,330.7 528.2,332.7 530.0,332.5C531.8,332.3 533.3,330.0 535.0,329.0C536.7,328.0 538.7,326.8 540.0,326.5C541.3,326.2 542.4,326.2 543.0,327.0C543.6,327.8 543.8,329.8 543.5,331.0C543.2,332.2 541.1,333.0 541.0,334.0C540.9,335.0 541.7,336.1 543.0,337.0C544.3,337.9 546.8,338.9 549.0,339.5C551.2,340.1 553.5,340.2 556.0,340.5C558.5,340.8 561.8,341.2 564.0,341.0C566.2,340.8 567.2,339.8 569.0,339.0C570.8,338.2 572.8,337.2 575.0,336.5C577.2,335.8 579.8,335.1 582.0,334.5C584.2,333.9 585.0,333.4 588.0,333.0C591.0,332.6 596.3,332.0 600.0,332.0C603.7,332.0 608.0,333.0 610.0,333.0C612.0,333.0 612.3,333.3 612.0,332.0C611.7,330.7 609.3,327.8 608.0,325.0C606.7,322.2 605.3,318.3 604.0,315.0C602.7,311.7 601.3,308.2 600.0,305.0C598.7,301.8 597.0,297.8 596.0,296.0C595.0,294.2 596.0,293.8 594.0,294.0C592.0,294.2 587.3,296.0 584.0,297.0C580.7,298.0 577.0,299.0 574.0,300.0C571.0,301.0 566.8,303.5 566.0,303.0C565.2,302.5 569.0,298.8 569.0,297.0C569.0,295.2 567.5,293.3 566.0,292.0C564.5,290.7 562.7,289.8 560.0,289.0C557.3,288.2 553.3,287.5 550.0,287.0C546.7,286.5 543.3,286.0 540.0,286.0C536.7,286.0 533.7,287.0 530.0,287.0C526.3,287.0 521.7,285.8 518.0,286.0C514.3,286.2 511.0,287.5 508.0,288.0C505.0,288.5 503.0,288.5 500.0,289.0C497.0,289.5 493.3,290.5 490.0,291.0C486.7,291.5 483.5,291.7 480.0,292.0C476.5,292.3 470.7,291.5 469.0,293.0Z" fill="#3f86c5"/>
<path d="M510.0,335.5C510.2,334.6 511.5,332.2 513.0,331.0C514.5,329.8 517.2,328.7 519.0,328.5C520.8,328.3 522.2,329.3 524.0,330.0C525.8,330.7 528.2,332.7 530.0,332.5C531.8,332.3 533.3,330.0 535.0,329.0C536.7,328.0 538.7,326.8 540.0,326.5C541.3,326.2 542.4,326.2 543.0,327.0C543.6,327.8 543.8,329.8 543.5,331.0C543.2,332.2 541.1,333.0 541.0,334.0C540.9,335.0 541.7,336.1 543.0,337.0C544.3,337.9 546.8,338.9 549.0,339.5C551.2,340.1 553.5,340.2 556.0,340.5C558.5,340.8 561.8,341.2 564.0,341.0C566.2,340.8 567.2,339.8 569.0,339.0C570.8,338.2 572.8,337.2 575.0,336.5C577.2,335.8 579.8,335.1 582.0,334.5C584.2,333.9 585.0,333.4 588.0,333.0C591.0,332.6 596.3,332.0 600.0,332.0C603.7,332.0 608.0,333.0 610.0,333.0C612.0,333.0 610.3,330.7 612.0,332.0C613.7,333.3 619.0,338.8 620.0,341.0C621.0,343.2 618.8,343.0 618.0,345.0C617.2,347.0 615.7,350.3 615.0,353.0C614.3,355.7 613.7,358.7 614.0,361.0C614.3,363.3 615.7,365.2 617.0,367.0C618.3,368.8 620.7,370.3 622.0,372.0C623.3,373.7 624.8,375.2 625.0,377.0C625.2,378.8 623.2,381.7 623.0,383.0C622.8,384.3 624.8,384.5 624.0,385.0C623.2,385.5 620.7,385.7 618.0,386.0C615.3,386.3 611.3,387.0 608.0,387.0C604.7,387.0 601.3,386.0 598.0,386.0C594.7,386.0 591.0,386.3 588.0,387.0C585.0,387.7 583.0,389.2 580.0,390.0C577.0,390.8 573.3,391.7 570.0,392.0C566.7,392.3 563.3,392.0 560.0,392.0C556.7,392.0 553.3,391.8 550.0,392.0C546.7,392.2 543.3,393.0 540.0,393.0C536.7,393.0 533.3,392.5 530.0,392.0C526.7,391.5 522.7,391.0 520.0,390.0C517.3,389.0 515.5,387.0 514.0,386.0C512.5,385.0 512.5,385.0 511.0,384.0C509.5,383.0 507.2,381.2 505.0,380.0C502.8,378.8 500.7,377.5 498.0,376.5C495.3,375.5 490.0,375.1 489.0,374.0C488.0,372.9 491.2,371.5 492.0,370.0C492.8,368.5 493.5,366.7 494.0,365.0C494.5,363.3 494.8,361.7 495.0,360.0C495.2,358.3 494.8,356.7 495.0,355.0C495.2,353.3 495.2,351.3 496.0,350.0C496.8,348.7 498.5,347.8 500.0,347.0C501.5,346.2 503.3,346.0 505.0,345.0C506.7,344.0 508.8,342.4 510.0,341.0C511.2,339.6 512.0,337.4 512.0,336.5C512.0,335.6 509.8,336.4 510.0,335.5Z" fill="#3f86c5"/>
<path d="M618.0,345.0C617.2,347.0 615.7,350.3 615.0,353.0C614.3,355.7 613.7,358.7 614.0,361.0C614.3,363.3 615.7,365.2 617.0,367.0C618.3,368.8 620.7,370.3 622.0,372.0C623.3,373.7 624.8,375.2 625.0,377.0C625.2,378.8 623.2,381.7 623.0,383.0C622.8,384.3 622.8,384.0 624.0,385.0C625.2,386.0 628.0,387.3 630.0,389.0C632.0,390.7 634.3,392.7 636.0,395.0C637.7,397.3 639.2,400.3 640.0,403.0C640.8,405.7 640.3,409.2 641.0,411.0C641.7,412.8 642.7,413.2 644.0,414.0C645.3,414.8 647.7,416.8 649.0,416.0C650.3,415.2 650.8,411.2 652.0,409.0C653.2,406.8 654.0,404.5 656.0,403.0C658.0,401.5 661.3,401.0 664.0,400.0C666.7,399.0 668.7,397.7 672.0,397.0C675.3,396.3 680.3,396.3 684.0,396.0C687.7,395.7 691.7,395.8 694.0,395.0C696.3,394.2 697.3,392.8 698.0,391.0C698.7,389.2 697.3,386.2 698.0,384.0C698.7,381.8 700.3,379.5 702.0,378.0C703.7,376.5 705.7,375.5 708.0,375.0C710.3,374.5 713.3,374.8 716.0,375.0C718.7,375.2 722.2,376.3 724.0,376.0C725.8,375.7 726.3,374.5 727.0,373.0C727.7,371.5 728.2,368.8 728.0,367.0C727.8,365.2 727.7,363.3 726.0,362.0C724.3,360.7 720.0,360.2 718.0,359.0C716.0,357.8 714.8,357.3 714.0,355.0C713.2,352.7 713.3,347.0 713.0,345.0C712.7,343.0 712.8,344.3 712.0,343.0C711.2,341.7 710.0,338.7 708.0,337.0C706.0,335.3 702.3,334.0 700.0,333.0C697.7,332.0 696.7,331.0 694.0,331.0C691.3,331.0 687.0,332.0 684.0,333.0C681.0,334.0 678.7,335.7 676.0,337.0C673.3,338.3 671.0,340.0 668.0,341.0C665.0,342.0 661.3,342.8 658.0,343.0C654.7,343.2 651.3,342.0 648.0,342.0C644.7,342.0 641.3,342.8 638.0,343.0C634.7,343.2 631.0,343.3 628.0,343.0C625.0,342.7 621.7,340.7 620.0,341.0C618.3,341.3 618.8,343.0 618.0,345.0Z" fill="#3f86c5"/>
<path d="M399.0,280.0C401.5,279.3 403.2,278.7 405.0,278.0C406.8,277.3 407.5,276.7 410.0,276.0C412.5,275.3 417.0,274.0 420.0,274.0C423.0,274.0 426.0,274.8 428.0,276.0C430.0,277.2 430.3,279.7 432.0,281.0C433.7,282.3 436.0,283.7 438.0,284.0C440.0,284.3 442.0,283.5 444.0,283.0C446.0,282.5 447.3,280.3 450.0,281.0C452.7,281.7 456.8,285.0 460.0,287.0C463.2,289.0 467.3,290.7 469.0,293.0C470.7,295.3 469.5,298.7 470.0,301.0C470.5,303.3 471.0,304.7 472.0,307.0C473.0,309.3 474.5,312.2 476.0,315.0C477.5,317.8 479.5,321.2 481.0,324.0C482.5,326.8 485.8,330.0 485.0,332.0C484.2,334.0 478.5,334.2 476.0,336.0C473.5,337.8 471.3,341.2 470.0,343.0C468.7,344.8 470.0,346.0 468.0,347.0C466.0,348.0 461.7,348.5 458.0,349.0C454.3,349.5 450.0,349.3 446.0,350.0C442.0,350.7 437.7,352.0 434.0,353.0C430.3,354.0 427.0,356.0 424.0,356.0C421.0,356.0 419.0,354.2 416.0,353.0C413.0,351.8 409.7,350.3 406.0,349.0C402.3,347.7 396.0,346.0 394.0,345.0C392.0,344.0 395.3,344.0 394.0,343.0C392.7,342.0 388.0,340.5 386.0,339.0C384.0,337.5 384.0,335.3 382.0,334.0C380.0,332.7 377.0,331.5 374.0,331.0C371.0,330.5 366.8,330.8 364.0,331.0C361.2,331.2 358.8,332.7 357.0,332.0C355.2,331.3 354.2,328.7 353.0,327.0C351.8,325.3 350.2,323.2 350.0,322.0C349.8,320.8 350.3,320.5 352.0,320.0C353.7,319.5 357.0,319.5 360.0,319.0C363.0,318.5 367.0,317.7 370.0,317.0C373.0,316.3 376.0,316.0 378.0,315.0C380.0,314.0 381.2,312.7 382.0,311.0C382.8,309.3 382.7,307.3 383.0,305.0C383.3,302.7 384.3,298.8 384.0,297.0C383.7,295.2 381.7,295.0 381.0,294.0C380.3,293.0 379.5,292.3 380.0,291.0C380.5,289.7 382.3,287.5 384.0,286.0C385.7,284.5 387.5,283.0 390.0,282.0C392.5,281.0 396.5,280.7 399.0,280.0Z" fill="#03508d"/>
<path d="M357.0,332.0C357.8,329.7 361.2,331.2 364.0,331.0C366.8,330.8 371.0,330.5 374.0,331.0C377.0,331.5 380.0,332.7 382.0,334.0C384.0,335.3 384.0,337.5 386.0,339.0C388.0,340.5 392.7,342.0 394.0,343.0C395.3,344.0 392.0,344.0 394.0,345.0C396.0,346.0 402.3,347.7 406.0,349.0C409.7,350.3 413.0,351.8 416.0,353.0C419.0,354.2 421.0,356.0 424.0,356.0C427.0,356.0 430.3,354.0 434.0,353.0C437.7,352.0 442.0,350.7 446.0,350.0C450.0,349.3 454.3,349.5 458.0,349.0C461.7,348.5 466.0,348.0 468.0,347.0C470.0,346.0 468.7,344.8 470.0,343.0C471.3,341.2 473.5,337.8 476.0,336.0C478.5,334.2 482.2,332.4 485.0,332.0C487.8,331.6 490.2,333.0 493.0,333.5C495.8,334.0 499.2,334.7 502.0,335.0C504.8,335.3 508.3,335.2 510.0,335.5C511.7,335.8 512.0,335.6 512.0,336.5C512.0,337.4 511.2,339.6 510.0,341.0C508.8,342.4 506.7,344.0 505.0,345.0C503.3,346.0 501.5,346.2 500.0,347.0C498.5,347.8 496.8,348.7 496.0,350.0C495.2,351.3 495.2,353.3 495.0,355.0C494.8,356.7 495.2,358.3 495.0,360.0C494.8,361.7 494.5,363.3 494.0,365.0C493.5,366.7 492.8,368.5 492.0,370.0C491.2,371.5 491.0,372.8 489.0,374.0C487.0,375.2 483.2,375.7 480.0,377.0C476.8,378.3 473.0,380.3 470.0,382.0C467.0,383.7 464.3,385.2 462.0,387.0C459.7,388.8 457.3,390.7 456.0,393.0C454.7,395.3 454.7,398.5 454.0,401.0C453.3,403.5 453.5,406.8 452.0,408.0C450.5,409.2 447.3,407.7 445.0,408.0C442.7,408.3 439.8,408.5 438.0,410.0C436.2,411.5 436.0,415.3 434.0,417.0C432.0,418.7 429.0,419.7 426.0,420.0C423.0,420.3 419.3,419.5 416.0,419.0C412.7,418.5 409.3,417.7 406.0,417.0C402.7,416.3 399.0,416.0 396.0,415.0C393.0,414.0 390.7,412.0 388.0,411.0C385.3,410.0 382.3,409.2 380.0,409.0C377.7,408.8 376.7,410.2 374.0,410.0C371.3,409.8 366.2,409.2 364.0,408.0C361.8,406.8 361.8,405.2 361.0,403.0C360.2,400.8 359.8,398.0 359.0,395.0C358.2,392.0 356.5,388.2 356.0,385.0C355.5,381.8 355.3,378.5 356.0,376.0C356.7,373.5 358.3,371.8 360.0,370.0C361.7,368.2 364.2,366.7 366.0,365.0C367.8,363.3 370.3,361.8 371.0,360.0C371.7,358.2 371.5,355.8 370.0,354.0C368.5,352.2 363.8,350.5 362.0,349.0C360.2,347.5 359.8,347.8 359.0,345.0C358.2,342.2 356.2,334.3 357.0,332.0Z" fill="#03508d"/>
<path d="M452.0,408.0C451.3,406.0 453.3,403.5 454.0,401.0C454.7,398.5 454.7,395.3 456.0,393.0C457.3,390.7 459.7,388.8 462.0,387.0C464.3,385.2 467.0,383.7 470.0,382.0C473.0,380.3 476.8,378.3 480.0,377.0C483.2,375.7 486.0,374.1 489.0,374.0C492.0,373.9 495.3,375.5 498.0,376.5C500.7,377.5 502.8,378.8 505.0,380.0C507.2,381.2 509.5,383.0 511.0,384.0C512.5,385.0 512.5,385.0 514.0,386.0C515.5,387.0 517.7,388.8 520.0,390.0C522.3,391.2 526.0,391.5 528.0,393.0C530.0,394.5 531.2,396.7 532.0,399.0C532.8,401.3 533.3,404.3 533.0,407.0C532.7,409.7 530.8,412.3 530.0,415.0C529.2,417.7 528.0,420.3 528.0,423.0C528.0,425.7 529.2,428.3 530.0,431.0C530.8,433.7 531.8,436.3 533.0,439.0C534.2,441.7 535.0,445.0 537.0,447.0C539.0,449.0 543.2,449.8 545.0,451.0C546.8,452.2 547.5,453.3 548.0,454.0C548.5,454.7 549.0,454.7 548.0,455.0C547.0,455.3 544.0,455.4 542.0,456.0C540.0,456.6 537.3,457.6 536.0,458.5C534.7,459.4 535.0,460.8 534.0,461.5C533.0,462.2 531.8,462.3 530.0,462.5C528.2,462.7 525.5,462.7 523.0,462.5C520.5,462.3 517.5,461.8 515.0,461.5C512.5,461.2 509.8,461.4 508.0,461.0C506.2,460.6 505.7,460.0 504.0,459.0C502.3,458.0 499.7,457.0 498.0,455.0C496.3,453.0 495.3,449.7 494.0,447.0C492.7,444.3 491.7,440.8 490.0,439.0C488.3,437.2 486.3,436.0 484.0,436.0C481.7,436.0 478.7,438.5 476.0,439.0C473.3,439.5 469.0,440.0 468.0,439.0C467.0,438.0 470.0,435.0 470.0,433.0C470.0,431.0 469.0,429.0 468.0,427.0C467.0,425.0 465.7,423.3 464.0,421.0C462.3,418.7 460.0,415.2 458.0,413.0C456.0,410.8 452.7,410.0 452.0,408.0Z" fill="#f3c5cc"/>
<path d="M416.0,419.0C417.5,417.2 423.0,420.3 426.0,420.0C429.0,419.7 432.0,418.7 434.0,417.0C436.0,415.3 436.2,411.5 438.0,410.0C439.8,408.5 442.7,408.3 445.0,408.0C447.3,407.7 449.8,407.2 452.0,408.0C454.2,408.8 456.0,410.8 458.0,413.0C460.0,415.2 462.3,418.7 464.0,421.0C465.7,423.3 467.0,425.0 468.0,427.0C469.0,429.0 470.0,431.0 470.0,433.0C470.0,435.0 467.0,438.0 468.0,439.0C469.0,440.0 473.3,439.5 476.0,439.0C478.7,438.5 481.7,436.0 484.0,436.0C486.3,436.0 488.3,437.2 490.0,439.0C491.7,440.8 492.7,444.3 494.0,447.0C495.3,449.7 496.3,453.0 498.0,455.0C499.7,457.0 502.3,458.0 504.0,459.0C505.7,460.0 507.8,460.2 508.0,461.0C508.2,461.8 506.5,463.2 505.0,464.0C503.5,464.8 501.2,465.1 499.0,465.5C496.8,465.9 493.7,465.9 492.0,466.5C490.3,467.1 490.2,468.1 489.0,469.0C487.8,469.9 486.2,471.0 485.0,472.0C483.8,473.0 482.7,473.9 482.0,475.0C481.3,476.1 482.2,477.9 481.0,478.5C479.8,479.1 476.8,478.8 475.0,478.5C473.2,478.2 472.2,477.2 470.0,477.0C467.8,476.8 465.0,476.7 462.0,477.0C459.0,477.3 455.3,478.5 452.0,479.0C448.7,479.5 445.0,479.3 442.0,480.0C439.0,480.7 436.7,481.7 434.0,483.0C431.3,484.3 429.0,487.2 426.0,488.0C423.0,488.8 419.3,488.5 416.0,488.0C412.7,487.5 407.3,486.5 406.0,485.0C404.7,483.5 407.7,481.7 408.0,479.0C408.3,476.3 408.0,472.7 408.0,469.0C408.0,465.3 408.2,460.7 408.0,457.0C407.8,453.3 408.0,449.5 407.0,447.0C406.0,444.5 403.2,443.8 402.0,442.0C400.8,440.2 399.0,437.5 400.0,436.0C401.0,434.5 405.2,433.8 408.0,433.0C410.8,432.2 415.7,433.3 417.0,431.0C418.3,428.7 414.5,420.8 416.0,419.0Z" fill="#f3c5cc"/>
<path d="M406.0,485.0C408.7,485.5 412.7,487.5 416.0,488.0C419.3,488.5 423.0,488.8 426.0,488.0C429.0,487.2 431.3,484.3 434.0,483.0C436.7,481.7 439.0,480.7 442.0,480.0C445.0,479.3 448.7,479.5 452.0,479.0C455.3,478.5 459.0,477.3 462.0,477.0C465.0,476.7 467.8,476.8 470.0,477.0C472.2,477.2 473.2,478.2 475.0,478.5C476.8,478.8 479.8,477.9 481.0,478.5C482.2,479.1 482.5,481.0 482.5,482.0C482.5,483.0 482.2,484.0 481.0,484.5C479.8,485.0 476.8,484.8 475.0,485.0C473.2,485.2 471.0,485.2 470.0,485.5C469.0,485.8 469.8,486.1 469.0,487.0C468.2,487.9 465.7,489.3 465.0,491.0C464.3,492.7 464.7,494.7 465.0,497.0C465.3,499.3 466.5,502.3 467.0,505.0C467.5,507.7 467.2,510.7 468.0,513.0C468.8,515.3 472.0,517.5 472.0,519.0C472.0,520.5 469.7,521.2 468.0,522.0C466.3,522.8 463.5,522.8 462.0,524.0C460.5,525.2 460.3,527.2 459.0,529.0C457.7,530.8 456.2,534.7 454.0,535.0C451.8,535.3 449.0,532.2 446.0,531.0C443.0,529.8 439.3,528.8 436.0,528.0C432.7,527.2 429.0,526.3 426.0,526.0C423.0,525.7 420.0,526.7 418.0,526.0C416.0,525.3 415.3,523.5 414.0,522.0C412.7,520.5 411.3,518.8 410.0,517.0C408.7,515.2 406.7,512.8 406.0,511.0C405.3,509.2 405.0,507.3 406.0,506.0C407.0,504.7 411.7,504.0 412.0,503.0C412.3,502.0 409.7,501.2 408.0,500.0C406.3,498.8 403.7,497.5 402.0,496.0C400.3,494.5 398.5,492.8 398.0,491.0C397.5,489.2 398.7,486.0 399.0,485.0C399.3,484.0 398.8,485.0 400.0,485.0C401.2,485.0 403.3,484.5 406.0,485.0Z" fill="#dc6b79"/>
<path d="M481.0,478.5C480.9,477.3 481.3,476.1 482.0,475.0C482.7,473.9 483.8,473.0 485.0,472.0C486.2,471.0 487.8,469.9 489.0,469.0C490.2,468.1 490.3,467.1 492.0,466.5C493.7,465.9 496.8,465.9 499.0,465.5C501.2,465.1 503.5,464.8 505.0,464.0C506.5,463.2 506.3,461.4 508.0,461.0C509.7,460.6 512.5,461.2 515.0,461.5C517.5,461.8 520.5,462.3 523.0,462.5C525.5,462.7 528.2,462.7 530.0,462.5C531.8,462.3 533.4,460.9 534.0,461.5C534.6,462.1 533.5,464.4 533.5,466.0C533.5,467.6 533.8,469.2 534.0,471.0C534.2,472.8 534.0,475.8 535.0,477.0C536.0,478.2 538.2,478.2 540.0,478.5C541.8,478.8 544.2,478.8 546.0,479.0C547.8,479.2 549.8,479.3 551.0,480.0C552.2,480.7 551.8,482.2 553.0,483.0C554.2,483.8 556.2,484.0 558.0,484.5C559.8,485.0 562.8,485.1 564.0,486.0C565.2,486.9 564.7,488.8 565.0,490.0C565.3,491.2 568.5,492.5 566.0,493.0C563.5,493.5 555.0,492.8 550.0,493.0C545.0,493.2 540.3,493.7 536.0,494.0C531.7,494.3 527.2,494.3 524.0,495.0C520.8,495.7 519.0,496.7 517.0,498.0C515.0,499.3 513.5,501.5 512.0,503.0C510.5,504.5 510.0,506.2 508.0,507.0C506.0,507.8 502.7,508.0 500.0,508.0C497.3,508.0 494.7,506.8 492.0,507.0C489.3,507.2 486.3,508.0 484.0,509.0C481.7,510.0 480.0,511.3 478.0,513.0C476.0,514.7 473.7,519.0 472.0,519.0C470.3,519.0 468.8,515.3 468.0,513.0C467.2,510.7 467.5,507.7 467.0,505.0C466.5,502.3 465.3,499.3 465.0,497.0C464.7,494.7 464.3,492.7 465.0,491.0C465.7,489.3 468.2,487.9 469.0,487.0C469.8,486.1 469.0,485.8 470.0,485.5C471.0,485.2 473.2,485.2 475.0,485.0C476.8,484.8 479.8,485.0 481.0,484.5C482.2,484.0 482.5,483.0 482.5,482.0C482.5,481.0 481.1,479.7 481.0,478.5Z" fill="#a8273e"/>
<path d="M534.0,461.5C534.4,460.2 534.7,459.4 536.0,458.5C537.3,457.6 540.0,456.6 542.0,456.0C544.0,455.4 545.3,455.5 548.0,455.0C550.7,454.5 554.7,453.7 558.0,453.0C561.3,452.3 565.3,451.7 568.0,451.0C570.7,450.3 572.5,450.2 574.0,449.0C575.5,447.8 575.3,445.0 577.0,444.0C578.7,443.0 581.2,443.5 584.0,443.0C586.8,442.5 590.7,441.5 594.0,441.0C597.3,440.5 601.2,440.3 604.0,440.0C606.8,439.7 609.5,440.2 611.0,439.0C612.5,437.8 612.0,434.7 613.0,433.0C614.0,431.3 615.5,430.5 617.0,429.0C618.5,427.5 620.2,425.8 622.0,424.0C623.8,422.2 625.7,419.7 628.0,418.0C630.3,416.3 634.0,415.0 636.0,414.0C638.0,413.0 638.7,412.0 640.0,412.0C641.3,412.0 642.5,413.3 644.0,414.0C645.5,414.7 647.5,415.2 649.0,416.0C650.5,416.8 653.5,417.7 653.0,419.0C652.5,420.3 647.5,422.0 646.0,424.0C644.5,426.0 644.5,428.5 644.0,431.0C643.5,433.5 644.0,437.0 643.0,439.0C642.0,441.0 639.8,441.5 638.0,443.0C636.2,444.5 633.8,446.2 632.0,448.0C630.2,449.8 629.0,452.2 627.0,454.0C625.0,455.8 621.8,457.3 620.0,459.0C618.2,460.7 617.7,463.0 616.0,464.0C614.3,465.0 612.0,464.8 610.0,465.0C608.0,465.2 604.8,463.7 604.0,465.0C603.2,466.3 605.3,470.8 605.0,473.0C604.7,475.2 603.2,476.2 602.0,478.0C600.8,479.8 599.0,482.2 598.0,484.0C597.0,485.8 595.8,487.5 596.0,489.0C596.2,490.5 599.0,492.5 599.0,493.0C599.0,493.5 597.8,492.0 596.0,492.0C594.2,492.0 590.7,492.5 588.0,493.0C585.3,493.5 583.0,494.8 580.0,495.0C577.0,495.2 572.7,494.3 570.0,494.0C567.3,493.7 564.7,493.2 564.0,493.0C563.3,492.8 565.8,493.5 566.0,493.0C566.2,492.5 565.3,491.2 565.0,490.0C564.7,488.8 565.2,486.9 564.0,486.0C562.8,485.1 559.8,485.0 558.0,484.5C556.2,484.0 554.2,483.8 553.0,483.0C551.8,482.2 552.2,480.7 551.0,480.0C549.8,479.3 547.8,479.2 546.0,479.0C544.2,478.8 541.8,478.8 540.0,478.5C538.2,478.2 536.0,478.2 535.0,477.0C534.0,475.8 534.2,472.8 534.0,471.0C533.8,469.2 533.5,467.6 533.5,466.0C533.5,464.4 533.6,462.8 534.0,461.5Z" fill="#dc6b79"/>
<path d="M728.0,375.0C728.7,373.3 728.3,371.3 730.0,371.0C731.7,370.7 735.3,372.7 738.0,373.0C740.7,373.3 744.3,374.0 746.0,373.0C747.7,372.0 747.3,368.0 748.0,367.0C748.7,366.0 748.0,367.3 750.0,367.0C752.0,366.7 756.7,365.8 760.0,365.0C763.3,364.2 767.0,362.9 770.0,362.0C773.0,361.1 775.3,359.4 778.0,359.4C780.7,359.4 783.3,361.2 786.0,362.0C788.7,362.8 793.0,362.5 794.0,364.0C795.0,365.5 792.8,368.7 792.0,371.0C791.2,373.3 790.2,376.2 789.0,378.0C787.8,379.8 786.8,381.0 785.0,382.0C783.2,383.0 780.5,383.0 778.0,384.0C775.5,385.0 772.7,386.7 770.0,388.0C767.3,389.3 764.3,390.5 762.0,392.0C759.7,393.5 757.3,395.3 756.0,397.0C754.7,398.7 755.0,400.5 754.0,402.0C753.0,403.5 751.5,404.2 750.0,406.0C748.5,407.8 745.8,410.5 745.0,413.0C744.2,415.5 745.8,418.8 745.0,421.0C744.2,423.2 741.7,425.8 740.0,426.0C738.3,426.2 736.7,423.8 735.0,422.0C733.3,420.2 731.5,417.2 730.0,415.0C728.5,412.8 726.7,412.0 726.0,409.0C725.3,406.0 725.8,400.3 726.0,397.0C726.2,393.7 727.0,391.7 727.0,389.0C727.0,386.3 725.8,383.3 726.0,381.0C726.2,378.7 727.3,376.7 728.0,375.0Z" fill="#dc6b79"/>
<path d="M799.0,137.0C798.3,134.7 799.0,130.5 800.0,129.0C801.0,127.5 803.7,127.7 805.0,128.0C806.3,128.3 805.8,130.5 808.0,131.0C810.2,131.5 815.0,130.5 818.0,131.0C821.0,131.5 823.0,133.5 826.0,134.0C829.0,134.5 833.3,133.5 836.0,134.0C838.7,134.5 839.3,137.0 842.0,137.0C844.7,137.0 850.2,132.7 852.0,134.0C853.8,135.3 852.3,142.7 853.0,145.0C853.7,147.3 854.2,147.8 856.0,148.0C857.8,148.2 861.7,146.3 864.0,146.0C866.3,145.7 869.3,144.5 870.0,146.0C870.7,147.5 869.0,152.2 868.0,155.0C867.0,157.8 865.3,160.3 864.0,163.0C862.7,165.7 860.3,168.2 860.0,171.0C859.7,173.8 862.8,177.8 862.0,180.0C861.2,182.2 856.8,182.2 855.0,184.0C853.2,185.8 852.0,188.7 851.0,191.0C850.0,193.3 851.2,196.3 849.0,198.0C846.8,199.7 840.3,199.2 838.0,201.0C835.7,202.8 835.7,207.5 835.0,209.0C834.3,210.5 834.8,209.3 834.0,210.0C833.2,210.7 832.3,211.8 830.0,213.0C827.7,214.2 823.3,216.2 820.0,217.0C816.7,217.8 813.7,218.0 810.0,218.0C806.3,218.0 800.5,217.8 798.0,217.0C795.5,216.2 795.3,215.0 795.0,213.0C794.7,211.0 796.0,207.7 796.0,205.0C796.0,202.3 794.3,199.3 795.0,197.0C795.7,194.7 798.0,193.0 800.0,191.0C802.0,189.0 805.7,187.0 807.0,185.0C808.3,183.0 807.5,181.7 808.0,179.0C808.5,176.3 809.7,173.0 810.0,169.0C810.3,165.0 810.2,158.7 810.0,155.0C809.8,151.3 810.0,149.0 809.0,147.0C808.0,145.0 805.7,144.7 804.0,143.0C802.3,141.3 799.7,139.3 799.0,137.0Z" fill="#3f86c5"/>
<path d="M870.0,146.0C870.3,145.0 868.7,148.2 870.0,149.0C871.3,149.8 876.0,150.7 878.0,151.0C880.0,151.3 880.3,151.7 882.0,151.0C883.7,150.3 885.3,147.7 888.0,147.0C890.7,146.3 895.3,146.7 898.0,147.0C900.7,147.3 902.0,148.8 904.0,149.0C906.0,149.2 907.7,149.0 910.0,148.0C912.3,147.0 915.0,144.3 918.0,143.0C921.0,141.7 924.7,140.7 928.0,140.0C931.3,139.3 935.3,138.3 938.0,139.0C940.7,139.7 942.0,142.3 944.0,144.0C946.0,145.7 948.8,147.3 950.0,149.0C951.2,150.7 951.3,152.0 951.0,154.0C950.7,156.0 948.2,158.5 948.0,161.0C947.8,163.5 950.2,166.3 950.0,169.0C949.8,171.7 947.8,174.8 947.0,177.0C946.2,179.2 946.5,181.0 945.0,182.0C943.5,183.0 940.5,182.2 938.0,183.0C935.5,183.8 933.0,186.7 930.0,187.0C927.0,187.3 923.7,185.8 920.0,185.0C916.3,184.2 910.0,183.3 908.0,182.0C906.0,180.7 907.7,178.8 908.0,177.0C908.3,175.2 910.0,172.7 910.0,171.0C910.0,169.3 910.0,168.0 908.0,167.0C906.0,166.0 901.0,165.5 898.0,165.0C895.0,164.5 892.0,165.0 890.0,164.0C888.0,163.0 887.0,160.3 886.0,159.0C885.0,157.7 885.3,156.5 884.0,156.0C882.7,155.5 880.3,156.0 878.0,156.0C875.7,156.0 871.7,156.2 870.0,156.0C868.3,155.8 868.0,156.7 868.0,155.0C868.0,153.3 869.7,147.0 870.0,146.0Z" fill="#a8273e"/>
<path d="M868.0,155.0C869.0,153.8 868.3,155.8 870.0,156.0C871.7,156.2 875.7,156.0 878.0,156.0C880.3,156.0 882.7,155.5 884.0,156.0C885.3,156.5 885.0,157.7 886.0,159.0C887.0,160.3 888.0,163.0 890.0,164.0C892.0,165.0 895.0,164.5 898.0,165.0C901.0,165.5 906.0,166.0 908.0,167.0C910.0,168.0 910.0,169.3 910.0,171.0C910.0,172.7 908.3,175.2 908.0,177.0C907.7,178.8 906.0,180.7 908.0,182.0C910.0,183.3 916.3,184.2 920.0,185.0C923.7,185.8 929.3,185.8 930.0,187.0C930.7,188.2 926.3,190.7 924.0,192.0C921.7,193.3 918.7,193.5 916.0,195.0C913.3,196.5 910.3,199.3 908.0,201.0C905.7,202.7 903.7,203.3 902.0,205.0C900.3,206.7 900.0,209.2 898.0,211.0C896.0,212.8 893.0,214.5 890.0,216.0C887.0,217.5 883.3,219.2 880.0,220.0C876.7,220.8 872.3,221.0 870.0,221.0C867.7,221.0 867.0,221.2 866.0,220.0C865.0,218.8 865.3,215.8 864.0,214.0C862.7,212.2 859.8,210.5 858.0,209.0C856.2,207.5 854.5,206.8 853.0,205.0C851.5,203.2 849.3,200.3 849.0,198.0C848.7,195.7 850.0,193.3 851.0,191.0C852.0,188.7 853.2,185.8 855.0,184.0C856.8,182.2 861.2,182.2 862.0,180.0C862.8,177.8 859.7,173.8 860.0,171.0C860.3,168.2 862.7,165.7 864.0,163.0C865.3,160.3 867.0,156.2 868.0,155.0Z" fill="#f3c5cc"/>
<path d="M849.0,198.0C846.5,197.3 840.3,199.2 838.0,201.0C835.7,202.8 835.7,207.5 835.0,209.0C834.3,210.5 834.8,209.3 834.0,210.0C833.2,210.7 832.3,211.8 830.0,213.0C827.7,214.2 823.3,216.2 820.0,217.0C816.7,217.8 813.7,218.0 810.0,218.0C806.3,218.0 800.7,217.0 798.0,217.0C795.3,217.0 794.3,217.0 794.0,218.0C793.7,219.0 796.7,221.5 796.0,223.0C795.3,224.5 791.7,225.7 790.0,227.0C788.3,228.3 786.5,229.3 786.0,231.0C785.5,232.7 786.7,234.7 787.0,237.0C787.3,239.3 787.5,242.3 788.0,245.0C788.5,247.7 788.7,250.8 790.0,253.0C791.3,255.2 793.8,256.5 796.0,258.0C798.2,259.5 800.7,261.7 803.0,262.0C805.3,262.3 807.8,260.3 810.0,260.0C812.2,259.7 814.3,260.3 816.0,260.0C817.7,259.7 818.8,259.0 820.0,258.0C821.2,257.0 822.8,255.3 823.0,254.0C823.2,252.7 821.7,251.3 821.0,250.0C820.3,248.7 818.5,247.5 819.0,246.0C819.5,244.5 822.2,242.7 824.0,241.0C825.8,239.3 827.3,237.3 830.0,236.0C832.7,234.7 836.7,234.2 840.0,233.0C843.3,231.8 846.7,230.5 850.0,229.0C853.3,227.5 857.3,225.5 860.0,224.0C862.7,222.5 865.3,221.7 866.0,220.0C866.7,218.3 865.3,215.8 864.0,214.0C862.7,212.2 859.8,210.5 858.0,209.0C856.2,207.5 854.5,206.8 853.0,205.0C851.5,203.2 851.5,198.7 849.0,198.0Z" fill="#f3c5cc"/>
<path d="M282.0,153.0C282.8,151.5 285.2,146.2 287.0,144.0C288.8,141.8 290.5,141.3 293.0,140.0C295.5,138.7 298.2,136.7 302.0,136.0C305.8,135.3 311.7,136.2 316.0,136.0C320.3,135.8 324.8,135.5 328.0,135.0C331.2,134.5 333.8,133.3 335.0,133.0" fill="none"/>
<path d="M319.0,173.0C319.0,171.7 319.2,167.3 319.0,165.0C318.8,162.7 317.8,160.7 318.0,159.0C318.2,157.3 318.8,156.2 320.0,155.0C321.2,153.8 323.0,153.0 325.0,152.0C327.0,151.0 329.8,149.8 332.0,149.0C334.2,148.2 337.0,148.2 338.0,147.0C339.0,145.8 338.0,142.8 338.0,142.0" fill="none"/>
<path d="M383.0,181.0C383.8,180.0 386.2,177.0 388.0,175.0C389.8,173.0 392.5,170.8 394.0,169.0C395.5,167.2 396.8,165.7 397.0,164.0C397.2,162.3 396.2,160.2 395.0,159.0C393.8,157.8 391.5,157.2 390.0,157.0C388.5,156.8 387.7,157.8 386.0,158.0C384.3,158.2 381.0,158.0 380.0,158.0" fill="none"/>
<path d="M397.0,123.0C397.8,123.5 399.8,125.5 402.0,126.0C404.2,126.5 407.7,126.3 410.0,126.0C412.3,125.7 413.0,124.5 416.0,124.0C419.0,123.5 424.0,123.0 428.0,123.0C432.0,123.0 436.0,123.7 440.0,124.0C444.0,124.3 448.3,125.0 452.0,125.0C455.7,125.0 459.0,124.3 462.0,124.0C465.0,123.7 466.7,123.7 470.0,123.0C473.3,122.3 478.3,121.2 482.0,120.0C485.7,118.8 489.0,117.2 492.0,116.0C495.0,114.8 497.3,113.8 500.0,113.0C502.7,112.2 505.0,111.8 508.0,111.0C511.0,110.2 515.7,109.3 518.0,108.0C520.3,106.7 521.3,103.8 522.0,103.0" fill="none"/>
<path d="M508.0,111.0C508.3,113.3 510.3,121.3 510.0,125.0C509.7,128.7 507.3,130.5 506.0,133.0C504.7,135.5 503.0,138.5 502.0,140.0C501.0,141.5 501.0,140.5 500.0,142.0C499.0,143.5 497.0,146.2 496.0,149.0C495.0,151.8 494.2,155.7 494.0,159.0C493.8,162.3 494.8,167.3 495.0,169.0" fill="none"/>
<path d="M467.0,180.0C467.5,179.2 468.5,176.5 470.0,175.0C471.5,173.5 473.3,172.0 476.0,171.0C478.7,170.0 482.8,169.3 486.0,169.0C489.2,168.7 493.0,167.5 495.0,169.0C497.0,170.5 497.2,176.2 498.0,178.0C498.8,179.8 498.0,178.8 500.0,180.0C502.0,181.2 506.7,183.7 510.0,185.0C513.3,186.3 516.3,187.2 520.0,188.0C523.7,188.8 528.0,188.8 532.0,190.0C536.0,191.2 541.0,193.2 544.0,195.0C547.0,196.8 548.2,198.7 550.0,201.0C551.8,203.3 554.2,207.7 555.0,209.0C555.8,210.3 554.7,208.7 555.0,209.0C555.3,209.3 556.7,210.7 557.0,211.0" fill="none"/>
<path d="M510.0,125.0C511.0,125.3 513.3,126.3 516.0,127.0C518.7,127.7 522.7,128.0 526.0,129.0C529.3,130.0 533.2,131.7 536.0,133.0C538.8,134.3 541.8,136.3 543.0,137.0" fill="none"/>
<path d="M543.0,137.0C544.0,137.3 547.3,139.7 549.0,139.0C550.7,138.3 552.5,135.3 553.0,133.0C553.5,130.7 551.2,127.0 552.0,125.0C552.8,123.0 556.7,121.8 558.0,121.0C559.3,120.2 557.2,120.8 560.0,120.5C562.8,120.2 571.9,119.5 575.0,119.0C578.1,118.5 578.1,118.5 578.5,117.5C578.9,116.5 577.5,114.4 577.5,113.0C577.5,111.6 577.2,109.8 578.5,109.0C579.8,108.2 582.4,108.8 585.0,108.5C587.6,108.2 592.2,107.6 594.0,107.0C595.8,106.4 595.7,105.3 596.0,105.0" fill="none"/>
<path d="M543.0,137.0C542.2,137.7 539.3,139.0 538.0,141.0C536.7,143.0 535.8,146.0 535.0,149.0C534.2,152.0 533.2,156.0 533.0,159.0C532.8,162.0 532.8,164.5 534.0,167.0C535.2,169.5 537.7,171.8 540.0,174.0C542.3,176.2 546.0,178.2 548.0,180.0C550.0,181.8 552.0,183.2 552.0,185.0C552.0,186.8 549.3,189.3 548.0,191.0C546.7,192.7 544.7,194.3 544.0,195.0" fill="none"/>
<path d="M577.0,208.0C574.8,208.5 567.3,210.5 564.0,211.0C560.7,211.5 560.0,210.5 557.0,211.0C554.0,211.5 549.5,213.2 546.0,214.0C542.5,214.8 539.3,215.5 536.0,216.0C532.7,216.5 529.0,216.0 526.0,217.0C523.0,218.0 520.3,220.0 518.0,222.0C515.7,224.0 513.2,227.0 512.0,229.0C510.8,231.0 513.0,233.3 511.0,234.0C509.0,234.7 502.8,233.5 500.0,233.0C497.2,232.5 496.2,230.8 494.0,231.0C491.8,231.2 489.3,233.8 487.0,234.0C484.7,234.2 482.5,233.3 480.0,232.0C477.5,230.7 473.3,227.0 472.0,226.0" fill="none"/>
<path d="M511.0,234.0C511.3,234.8 512.0,236.8 513.0,239.0C514.0,241.2 515.7,244.3 517.0,247.0C518.3,249.7 519.8,252.3 521.0,255.0C522.2,257.7 522.5,261.5 524.0,263.0C525.5,264.5 527.5,263.8 530.0,264.0C532.5,264.2 537.5,264.0 539.0,264.0" fill="none"/>
<path d="M487.0,234.0C487.0,235.5 487.3,240.2 487.0,243.0C486.7,245.8 486.2,248.5 485.0,251.0C483.8,253.5 482.2,255.7 480.0,258.0C477.8,260.3 474.7,263.0 472.0,265.0C469.3,267.0 466.7,268.2 464.0,270.0C461.3,271.8 458.3,274.2 456.0,276.0C453.7,277.8 451.0,280.2 450.0,281.0" fill="none"/>
<path d="M671.0,180.0C672.5,180.8 676.5,184.0 680.0,185.0C683.5,186.0 689.7,187.0 692.0,186.0C694.3,185.0 694.2,181.8 694.0,179.0C693.8,176.2 691.2,172.3 691.0,169.0C690.8,165.7 691.8,162.3 693.0,159.0C694.2,155.7 695.5,151.3 698.0,149.0C700.5,146.7 705.2,146.2 708.0,145.0C710.8,143.8 713.3,143.3 715.0,142.0C716.7,140.7 716.2,138.7 718.0,137.0C719.8,135.3 723.7,133.3 726.0,132.0C728.3,130.7 731.0,129.5 732.0,129.0" fill="none"/>
<path d="M715.0,142.0C715.8,143.8 718.2,149.5 720.0,153.0C721.8,156.5 725.3,159.7 726.0,163.0C726.7,166.3 723.3,169.7 724.0,173.0C724.7,176.3 727.3,180.3 730.0,183.0C732.7,185.7 737.3,187.0 740.0,189.0C742.7,191.0 744.3,193.3 746.0,195.0C747.7,196.7 748.3,198.0 750.0,199.0C751.7,200.0 754.0,200.0 756.0,201.0C758.0,202.0 760.0,203.3 762.0,205.0C764.0,206.7 765.7,209.3 768.0,211.0C770.3,212.7 773.0,214.7 776.0,215.0C779.0,215.3 783.2,213.7 786.0,213.0C788.8,212.3 791.5,211.0 793.0,211.0C794.5,211.0 794.7,212.7 795.0,213.0" fill="none"/>
<path d="M770.0,309.0C769.0,309.2 766.0,310.2 764.0,310.0C762.0,309.8 760.3,307.8 758.0,308.0C755.7,308.2 752.0,310.3 750.0,311.0C748.0,311.7 748.3,312.3 746.0,312.0C743.7,311.7 738.7,310.5 736.0,309.0C733.3,307.5 731.0,304.0 730.0,303.0" fill="none"/>
<path d="M653.0,419.0C654.2,419.5 658.3,420.7 660.0,422.0C661.7,423.3 662.0,425.2 663.0,427.0C664.0,428.8 664.5,431.2 666.0,433.0C667.5,434.8 669.7,436.3 672.0,438.0C674.3,439.7 677.3,441.5 680.0,443.0C682.7,444.5 685.7,446.0 688.0,447.0C690.3,448.0 693.0,448.7 694.0,449.0" fill="none"/>
<path d="M727.0,373.0 L728.0,375.0" fill="none"/>
<path d="M579.5,114.0C580.4,113.8 583.2,112.8 585.0,112.5C586.8,112.2 588.5,111.8 590.0,112.0C591.5,112.2 592.9,112.8 594.0,113.5C595.1,114.2 595.5,115.9 596.5,116.5C597.5,117.1 598.6,117.0 600.0,117.0C601.4,117.0 603.8,116.2 605.0,116.5C606.2,116.8 606.8,118.1 607.5,119.0C608.2,119.9 607.9,121.3 609.0,122.0C610.1,122.7 612.3,122.8 614.0,123.0C615.7,123.2 617.3,123.3 619.0,123.0C620.7,122.7 622.4,121.6 624.0,121.0C625.6,120.4 627.5,120.8 628.5,119.5C629.5,118.2 629.4,114.8 630.0,113.0C630.6,111.2 631.2,110.7 632.0,109.0C632.8,107.3 634.5,104.0 635.0,103.0" fill="none"/>
<path d="M596.5,116.5C596.8,117.2 597.4,119.6 598.0,121.0C598.6,122.4 599.5,123.5 600.0,125.0C600.5,126.5 600.9,128.0 601.0,130.0C601.1,132.0 600.5,135.3 600.5,137.0C600.5,138.7 599.9,139.6 601.0,140.0C602.1,140.4 605.0,139.8 607.0,139.5C609.0,139.2 611.2,138.5 613.0,138.0C614.8,137.5 616.2,136.8 618.0,136.5C619.8,136.2 622.5,136.1 624.0,136.5C625.5,136.9 626.0,138.1 627.0,139.0C628.0,139.9 628.8,141.1 630.0,142.0C631.2,142.9 633.3,144.1 634.0,144.5" fill="none"/>
<path d="M628.5,119.5C628.8,120.4 629.2,123.3 630.0,125.0C630.8,126.7 631.5,128.5 633.0,129.5C634.5,130.5 637.3,130.8 639.0,131.0C640.7,131.2 641.9,130.5 643.0,131.0C644.1,131.5 645.3,132.8 645.5,134.0C645.7,135.2 644.9,136.9 644.0,138.0C643.1,139.1 641.3,139.8 640.0,140.5C638.7,141.2 637.0,141.8 636.0,142.5C635.0,143.2 634.3,144.2 634.0,144.5" fill="none"/>
<path d="M625.0,136.8C625.7,136.1 627.7,133.7 629.0,132.5C630.3,131.3 632.3,130.0 633.0,129.5" fill="none"/>
<path d="M643.0,131.0C643.3,130.4 643.8,128.3 645.0,127.5C646.2,126.7 648.5,126.9 650.0,126.0C651.5,125.1 652.3,123.3 654.0,122.0C655.7,120.7 658.0,119.3 660.0,118.0C662.0,116.7 664.0,115.3 666.0,114.0C668.0,112.7 670.2,111.1 672.0,110.0C673.8,108.9 675.8,107.9 676.5,107.5" fill="none"/>
<path d="M634.0,144.5C633.7,144.7 633.3,145.4 632.0,145.5C630.7,145.6 627.7,145.2 626.0,145.0C624.3,144.8 623.0,144.2 622.0,144.5C621.0,144.8 621.3,146.0 620.0,146.5C618.7,147.0 616.0,147.2 614.0,147.5C612.0,147.8 609.7,148.1 608.0,148.5C606.3,148.9 604.8,149.1 604.0,150.0C603.2,150.9 603.2,152.7 603.0,154.0C602.8,155.3 602.7,156.7 602.5,158.0C602.3,159.3 602.4,159.8 602.0,162.0C601.6,164.2 599.7,168.2 600.0,171.0C600.3,173.8 602.7,177.0 604.0,179.0C605.3,181.0 607.3,182.3 608.0,183.0" fill="none"/>
<path d="M634.0,144.5C633.8,145.1 632.7,146.8 633.0,148.0C633.3,149.2 634.8,150.5 636.0,152.0C637.2,153.5 638.5,155.3 640.0,157.0C641.5,158.7 642.7,161.0 645.0,162.0C647.3,163.0 651.2,162.2 654.0,163.0C656.8,163.8 659.7,165.3 662.0,167.0C664.3,168.7 666.5,171.0 668.0,173.0C669.5,175.0 671.0,177.3 671.0,179.0C671.0,180.7 668.5,182.3 668.0,183.0" fill="none"/>
</g>
<path d="M332.0,78.0C333.8,76.3 335.0,75.3 338.0,75.0C341.0,74.7 346.8,75.2 350.0,76.0C353.2,76.8 354.7,79.3 357.0,80.0C359.3,80.7 361.5,79.3 364.0,80.0C366.5,80.7 369.7,82.7 372.0,84.0C374.3,85.3 376.2,86.8 378.0,88.0C379.8,89.2 381.5,90.7 383.0,91.0C384.5,91.3 385.2,90.0 387.0,90.0C388.8,90.0 391.2,90.5 394.0,91.0C396.8,91.5 400.3,92.8 404.0,93.0C407.7,93.2 412.7,92.3 416.0,92.0C419.3,91.7 421.3,91.3 424.0,91.0C426.7,90.7 429.3,89.8 432.0,90.0C434.7,90.2 437.5,91.8 440.0,92.0C442.5,92.2 445.3,91.5 447.0,91.0C448.7,90.5 448.2,89.0 450.0,89.0C451.8,89.0 454.7,90.5 458.0,91.0C461.3,91.5 466.0,91.8 470.0,92.0C474.0,92.2 478.7,91.7 482.0,92.0C485.3,92.3 487.3,93.2 490.0,94.0C492.7,94.8 495.3,96.5 498.0,97.0C500.7,97.5 504.0,96.8 506.0,97.0C508.0,97.2 507.8,97.3 510.0,98.0C512.2,98.7 517.0,100.2 519.0,101.0C521.0,101.8 519.8,103.2 522.0,103.0C524.2,102.8 528.3,101.0 532.0,100.0C535.7,99.0 539.7,97.7 544.0,97.0C548.3,96.3 553.5,96.3 558.0,96.0C562.5,95.7 568.3,94.7 571.0,95.0C573.7,95.3 572.8,96.8 574.0,98.0C575.2,99.2 576.2,101.2 578.0,102.0C579.8,102.8 582.4,102.8 585.0,103.0C587.6,103.2 591.7,102.7 593.5,103.0C595.3,103.3 595.2,105.3 596.0,105.0C596.8,104.7 596.5,102.0 598.0,101.0C599.5,100.0 602.7,99.3 605.0,99.0C607.3,98.7 609.5,98.8 612.0,99.0C614.5,99.2 617.0,99.6 620.0,100.0C623.0,100.4 627.5,101.0 630.0,101.5C632.5,102.0 632.5,102.2 635.0,103.0C637.5,103.8 641.7,105.8 645.0,106.0C648.3,106.2 651.2,104.7 655.0,104.5C658.8,104.3 664.4,104.5 668.0,105.0C671.6,105.5 673.2,107.2 676.5,107.5C679.8,107.8 685.4,106.9 688.0,107.0C690.6,107.1 690.8,107.0 692.0,108.0C693.2,109.0 693.7,111.3 695.0,113.0C696.3,114.7 697.8,116.3 700.0,118.0C702.2,119.7 704.7,122.0 708.0,123.0C711.3,124.0 716.7,123.7 720.0,124.0C723.3,124.3 726.0,124.2 728.0,125.0C730.0,125.8 730.0,127.8 732.0,129.0C734.0,130.2 737.0,131.2 740.0,132.0C743.0,132.8 746.7,133.2 750.0,134.0C753.3,134.8 756.7,136.5 760.0,137.0C763.3,137.5 766.3,137.2 770.0,137.0C773.7,136.8 778.3,135.8 782.0,136.0C785.7,136.2 789.2,137.8 792.0,138.0C794.8,138.2 797.7,138.5 799.0,137.0C800.3,135.5 799.0,130.5 800.0,129.0C801.0,127.5 803.7,127.7 805.0,128.0C806.3,128.3 805.8,130.5 808.0,131.0C810.2,131.5 815.0,130.5 818.0,131.0C821.0,131.5 823.0,133.5 826.0,134.0C829.0,134.5 833.3,133.5 836.0,134.0C838.7,134.5 839.3,137.0 842.0,137.0C844.7,137.0 850.2,132.7 852.0,134.0C853.8,135.3 852.3,142.7 853.0,145.0C853.7,147.3 854.2,147.8 856.0,148.0C857.8,148.2 861.7,146.3 864.0,146.0C866.3,145.7 869.0,145.5 870.0,146.0C871.0,146.5 868.7,148.2 870.0,149.0C871.3,149.8 876.0,150.7 878.0,151.0C880.0,151.3 880.3,151.7 882.0,151.0C883.7,150.3 885.3,147.7 888.0,147.0C890.7,146.3 895.3,146.7 898.0,147.0C900.7,147.3 902.0,148.8 904.0,149.0C906.0,149.2 907.7,149.0 910.0,148.0C912.3,147.0 915.0,144.3 918.0,143.0C921.0,141.7 924.7,140.7 928.0,140.0C931.3,139.3 935.3,138.3 938.0,139.0C940.7,139.7 942.0,142.3 944.0,144.0C946.0,145.7 948.8,147.3 950.0,149.0C951.2,150.7 951.3,152.0 951.0,154.0C950.7,156.0 948.2,158.5 948.0,161.0C947.8,163.5 950.2,166.3 950.0,169.0C949.8,171.7 947.8,174.8 947.0,177.0C946.2,179.2 946.5,181.0 945.0,182.0C943.5,183.0 940.5,182.2 938.0,183.0C935.5,183.8 932.3,185.5 930.0,187.0C927.7,188.5 926.3,190.7 924.0,192.0C921.7,193.3 918.7,193.5 916.0,195.0C913.3,196.5 910.3,199.3 908.0,201.0C905.7,202.7 903.7,203.3 902.0,205.0C900.3,206.7 900.0,209.2 898.0,211.0C896.0,212.8 893.0,214.5 890.0,216.0C887.0,217.5 883.3,219.2 880.0,220.0C876.7,220.8 872.3,221.0 870.0,221.0C867.7,221.0 867.7,219.5 866.0,220.0C864.3,220.5 862.7,222.5 860.0,224.0C857.3,225.5 853.3,227.5 850.0,229.0C846.7,230.5 843.3,231.8 840.0,233.0C836.7,234.2 832.7,234.7 830.0,236.0C827.3,237.3 825.8,239.3 824.0,241.0C822.2,242.7 819.5,244.5 819.0,246.0C818.5,247.5 820.3,248.7 821.0,250.0C821.7,251.3 823.2,252.7 823.0,254.0C822.8,255.3 821.2,257.0 820.0,258.0C818.8,259.0 817.7,259.7 816.0,260.0C814.3,260.3 812.2,259.7 810.0,260.0C807.8,260.3 804.7,260.5 803.0,262.0C801.3,263.5 800.7,266.8 800.0,269.0C799.3,271.2 800.0,273.0 799.0,275.0C798.0,277.0 795.5,279.0 794.0,281.0C792.5,283.0 791.3,285.3 790.0,287.0C788.7,288.7 787.7,289.7 786.0,291.0C784.3,292.3 782.0,293.3 780.0,295.0C778.0,296.7 775.7,298.7 774.0,301.0C772.3,303.3 771.3,306.3 770.0,309.0C768.7,311.7 767.2,314.3 766.0,317.0C764.8,319.7 763.3,322.0 763.0,325.0C762.7,328.0 763.5,332.0 764.0,335.0C764.5,338.0 765.5,341.3 766.0,343.0C766.5,344.7 766.0,343.7 767.0,345.0C768.0,346.3 770.3,349.0 772.0,351.0C773.7,353.0 776.0,355.6 777.0,357.0C778.0,358.4 776.5,358.6 778.0,359.4C779.5,360.2 783.3,361.2 786.0,362.0C788.7,362.8 793.0,362.5 794.0,364.0C795.0,365.5 792.8,368.7 792.0,371.0C791.2,373.3 790.2,376.2 789.0,378.0C787.8,379.8 786.8,381.0 785.0,382.0C783.2,383.0 780.5,383.0 778.0,384.0C775.5,385.0 772.7,386.7 770.0,388.0C767.3,389.3 764.3,390.5 762.0,392.0C759.7,393.5 757.3,395.3 756.0,397.0C754.7,398.7 755.0,400.5 754.0,402.0C753.0,403.5 751.5,404.2 750.0,406.0C748.5,407.8 745.8,410.5 745.0,413.0C744.2,415.5 745.8,418.8 745.0,421.0C744.2,423.2 740.5,424.0 740.0,426.0C739.5,428.0 742.2,431.0 742.0,433.0C741.8,435.0 741.0,436.8 739.0,438.0C737.0,439.2 733.2,439.5 730.0,440.0C726.8,440.5 723.3,440.7 720.0,441.0C716.7,441.3 713.0,441.5 710.0,442.0C707.0,442.5 704.7,442.8 702.0,444.0C699.3,445.2 696.0,447.2 694.0,449.0C692.0,450.8 691.7,453.0 690.0,455.0C688.3,457.0 685.7,459.0 684.0,461.0C682.3,463.0 681.3,465.0 680.0,467.0C678.7,469.0 677.0,470.7 676.0,473.0C675.0,475.3 675.0,478.7 674.0,481.0C673.0,483.3 671.3,485.7 670.0,487.0C668.7,488.3 667.7,488.2 666.0,489.0C664.3,489.8 662.3,491.7 660.0,492.0C657.7,492.3 654.7,491.7 652.0,491.0C649.3,490.3 646.7,488.8 644.0,488.0C641.3,487.2 638.7,485.8 636.0,486.0C633.3,486.2 630.7,488.2 628.0,489.0C625.3,489.8 623.3,490.5 620.0,491.0C616.7,491.5 611.5,491.7 608.0,492.0C604.5,492.3 601.0,493.0 599.0,493.0C597.0,493.0 597.8,492.0 596.0,492.0C594.2,492.0 590.7,492.5 588.0,493.0C585.3,493.5 583.0,494.8 580.0,495.0C577.0,495.2 572.7,494.3 570.0,494.0C567.3,493.7 567.3,493.2 564.0,493.0C560.7,492.8 554.7,492.8 550.0,493.0C545.3,493.2 540.3,493.7 536.0,494.0C531.7,494.3 527.2,494.3 524.0,495.0C520.8,495.7 519.0,496.7 517.0,498.0C515.0,499.3 513.5,501.5 512.0,503.0C510.5,504.5 510.0,506.2 508.0,507.0C506.0,507.8 502.7,508.0 500.0,508.0C497.3,508.0 494.7,506.8 492.0,507.0C489.3,507.2 486.3,508.0 484.0,509.0C481.7,510.0 480.0,511.3 478.0,513.0C476.0,514.7 473.7,517.5 472.0,519.0C470.3,520.5 469.7,521.2 468.0,522.0C466.3,522.8 463.5,522.8 462.0,524.0C460.5,525.2 460.3,527.2 459.0,529.0C457.7,530.8 456.2,534.7 454.0,535.0C451.8,535.3 449.0,532.2 446.0,531.0C443.0,529.8 439.3,528.8 436.0,528.0C432.7,527.2 429.0,526.3 426.0,526.0C423.0,525.7 420.0,526.7 418.0,526.0C416.0,525.3 415.3,523.5 414.0,522.0C412.7,520.5 411.3,518.8 410.0,517.0C408.7,515.2 406.7,512.8 406.0,511.0C405.3,509.2 405.0,507.3 406.0,506.0C407.0,504.7 411.7,504.0 412.0,503.0C412.3,502.0 409.7,501.2 408.0,500.0C406.3,498.8 403.7,497.5 402.0,496.0C400.3,494.5 398.5,492.8 398.0,491.0C397.5,489.2 398.7,486.0 399.0,485.0C399.3,484.0 400.8,486.0 400.0,485.0C399.2,484.0 396.0,480.8 394.0,479.0C392.0,477.2 390.3,475.7 388.0,474.0C385.7,472.3 382.7,470.7 380.0,469.0C377.3,467.3 374.7,465.2 372.0,464.0C369.3,462.8 366.7,462.2 364.0,462.0C361.3,461.8 358.5,462.5 356.0,463.0C353.5,463.5 350.3,466.0 349.0,465.0C347.7,464.0 348.3,459.7 348.0,457.0C347.7,454.3 347.5,451.7 347.0,449.0C346.5,446.3 345.3,443.7 345.0,441.0C344.7,438.3 344.2,435.3 345.0,433.0C345.8,430.7 348.2,429.0 350.0,427.0C351.8,425.0 354.3,423.2 356.0,421.0C357.7,418.8 357.7,415.7 360.0,414.0C362.3,412.3 367.7,411.7 370.0,411.0C372.3,410.3 375.0,410.5 374.0,410.0C373.0,409.5 366.2,409.2 364.0,408.0C361.8,406.8 361.8,405.2 361.0,403.0C360.2,400.8 359.8,398.0 359.0,395.0C358.2,392.0 356.5,388.2 356.0,385.0C355.5,381.8 355.3,378.5 356.0,376.0C356.7,373.5 358.3,371.8 360.0,370.0C361.7,368.2 364.2,366.7 366.0,365.0C367.8,363.3 370.3,361.8 371.0,360.0C371.7,358.2 371.5,355.8 370.0,354.0C368.5,352.2 363.8,350.5 362.0,349.0C360.2,347.5 359.8,347.8 359.0,345.0C358.2,342.2 358.0,335.0 357.0,332.0C356.0,329.0 354.2,328.7 353.0,327.0C351.8,325.3 350.2,323.2 350.0,322.0C349.8,320.8 350.3,320.5 352.0,320.0C353.7,319.5 357.0,319.5 360.0,319.0C363.0,318.5 367.0,317.7 370.0,317.0C373.0,316.3 376.0,316.0 378.0,315.0C380.0,314.0 381.2,312.7 382.0,311.0C382.8,309.3 382.7,307.3 383.0,305.0C383.3,302.7 384.3,298.8 384.0,297.0C383.7,295.2 381.7,295.0 381.0,294.0C380.3,293.0 379.5,292.3 380.0,291.0C380.5,289.7 382.3,287.5 384.0,286.0C385.7,284.5 387.5,283.0 390.0,282.0C392.5,281.0 398.3,281.2 399.0,280.0C399.7,278.8 395.0,277.2 394.0,275.0C393.0,272.8 393.2,270.0 393.0,267.0C392.8,264.0 393.2,260.2 393.0,257.0C392.8,253.8 392.5,250.5 392.0,248.0C391.5,245.5 389.5,244.2 390.0,242.0C390.5,239.8 393.0,237.0 395.0,235.0C397.0,233.0 399.5,231.3 402.0,230.0C404.5,228.7 407.0,227.8 410.0,227.0C413.0,226.2 418.0,226.7 420.0,225.0C422.0,223.3 421.8,219.3 422.0,217.0C422.2,214.7 422.0,212.7 421.0,211.0C420.0,209.3 417.8,208.0 416.0,207.0C414.2,206.0 411.0,205.7 410.0,205.0C409.0,204.3 410.2,204.7 410.0,203.0C409.8,201.3 409.7,197.3 409.0,195.0C408.3,192.7 407.5,190.5 406.0,189.0C404.5,187.5 402.7,186.5 400.0,186.0C397.3,185.5 392.7,186.2 390.0,186.0C387.3,185.8 385.2,185.8 384.0,185.0C382.8,184.2 383.7,181.0 383.0,181.0C382.3,181.0 381.2,183.3 380.0,185.0C378.8,186.7 377.3,189.3 376.0,191.0C374.7,192.7 374.0,194.3 372.0,195.0C370.0,195.7 367.0,195.3 364.0,195.0C361.0,194.7 357.0,193.8 354.0,193.0C351.0,192.2 349.0,190.2 346.0,190.0C343.0,189.8 338.3,191.2 336.0,192.0C333.7,192.8 333.3,194.7 332.0,195.0C330.7,195.3 329.3,194.8 328.0,194.0C326.7,193.2 324.5,191.5 324.0,190.0C323.5,188.5 325.2,186.8 325.0,185.0C324.8,183.2 324.0,181.0 323.0,179.0C322.0,177.0 320.2,173.7 319.0,173.0C317.8,172.3 317.8,174.5 316.0,175.0C314.2,175.5 311.0,175.2 308.0,176.0C305.0,176.8 301.0,178.7 298.0,180.0C295.0,181.3 292.7,183.0 290.0,184.0C287.3,185.0 284.0,186.5 282.0,186.0C280.0,185.5 279.3,182.7 278.0,181.0C276.7,179.3 274.5,177.5 274.0,176.0C273.5,174.5 274.0,173.5 275.0,172.0C276.0,170.5 278.0,168.2 280.0,167.0C282.0,165.8 285.7,165.7 287.0,165.0C288.3,164.3 289.2,163.3 288.0,163.0C286.8,162.7 281.3,163.7 280.0,163.0C278.7,162.3 279.7,160.7 280.0,159.0C280.3,157.3 282.0,154.7 282.0,153.0C282.0,151.3 280.3,151.0 280.0,149.0C279.7,147.0 280.3,143.7 280.0,141.0C279.7,138.3 279.0,135.0 278.0,133.0C277.0,131.0 275.8,130.0 274.0,129.0C272.2,128.0 269.0,128.0 267.0,127.0C265.0,126.0 263.0,125.0 262.0,123.0C261.0,121.0 260.5,117.2 261.0,115.0C261.5,112.8 262.8,111.3 265.0,110.0C267.2,108.7 271.0,108.0 274.0,107.0C277.0,106.0 279.2,104.8 283.0,104.0C286.8,103.2 292.5,102.7 297.0,102.0C301.5,101.3 306.0,100.0 310.0,100.0C314.0,100.0 318.5,102.2 321.0,102.0C323.5,101.8 324.5,101.0 325.0,99.0C325.5,97.0 323.7,92.3 324.0,90.0C324.3,87.7 325.7,87.0 327.0,85.0C328.3,83.0 330.2,79.7 332.0,78.0Z" fill="none" stroke="#7e7e7e" stroke-width="1.8" stroke-linejoin="round"/>
<path d="M400.5,128.6C401.2,128.0 402.2,128.7 402.0,129.5C401.8,130.3 400.5,131.9 399.5,133.5C398.5,135.1 397.3,137.1 396.0,138.8C394.7,140.6 392.8,142.6 391.5,144.0C390.2,145.4 388.9,146.7 388.3,147.0C387.7,147.3 387.4,146.7 387.8,146.0C388.2,145.3 389.4,144.3 390.5,143.0C391.6,141.7 393.2,139.7 394.5,138.0C395.8,136.3 397.0,134.6 398.0,133.0C399.0,131.4 399.8,129.2 400.5,128.6Z" fill="#fff" stroke="#7e7e7e" stroke-width="0.8"/>
<g stroke="#7e7e7e" stroke-width="1.4" stroke-linejoin="round">
<path d="M874.0,321.0C874.7,319.5 876.0,317.3 878.0,316.0C880.0,314.7 884.0,314.3 886.0,313.0C888.0,311.7 888.0,309.5 890.0,308.0C892.0,306.5 895.7,305.2 898.0,304.0C900.3,302.8 902.7,300.8 904.0,301.0C905.3,301.2 905.8,303.3 906.0,305.0C906.2,306.7 904.3,309.5 905.0,311.0C905.7,312.5 908.5,313.8 910.0,314.0C911.5,314.2 913.5,311.2 914.0,312.0C914.5,312.8 913.7,316.8 913.0,319.0C912.3,321.2 911.5,323.2 910.0,325.0C908.5,326.8 905.7,328.3 904.0,330.0C902.3,331.7 901.0,333.0 900.0,335.0C899.0,337.0 898.8,340.7 898.0,342.0C897.2,343.3 895.8,344.2 895.0,343.0C894.2,341.8 893.8,337.3 893.0,335.0C892.2,332.7 891.5,330.5 890.0,329.0C888.5,327.5 886.0,326.3 884.0,326.0C882.0,325.7 879.7,327.2 878.0,327.0C876.3,326.8 874.7,326.0 874.0,325.0C873.3,324.0 873.3,322.5 874.0,321.0Z" fill="#a8273e"/>
<path d="M932.0,302.0C932.0,300.8 934.7,298.5 936.0,297.0C937.3,295.5 938.5,293.2 940.0,293.0C941.5,292.8 943.3,295.3 945.0,296.0C946.7,296.7 948.2,296.7 950.0,297.0C951.8,297.3 955.3,297.0 956.0,298.0C956.7,299.0 954.7,301.2 954.0,303.0C953.3,304.8 953.2,308.5 952.0,309.0C950.8,309.5 948.7,307.0 947.0,306.0C945.3,305.0 943.8,303.3 942.0,303.0C940.2,302.7 937.7,304.2 936.0,304.0C934.3,303.8 932.0,303.2 932.0,302.0Z" fill="#a8273e"/>
<path d="M831.0,343.0C831.3,341.8 832.4,341.3 833.5,340.8C834.6,340.3 836.2,340.1 837.5,340.0C838.8,339.9 840.5,339.8 841.5,340.0C842.5,340.2 843.2,340.7 843.5,341.5C843.8,342.3 843.5,343.8 843.3,345.0C843.0,346.2 842.6,347.4 842.0,348.5C841.4,349.6 840.4,350.8 839.5,351.5C838.6,352.2 837.5,352.8 836.5,352.8C835.5,352.8 834.3,352.3 833.5,351.5C832.7,350.7 831.9,349.4 831.5,348.0C831.1,346.6 830.7,344.2 831.0,343.0Z" fill="#a8273e"/>
<path d="M295.0,528.0C295.3,526.5 296.5,524.5 298.0,523.0C299.5,521.5 301.7,520.0 304.0,519.0C306.3,518.0 309.8,517.5 312.0,517.0C314.2,516.5 316.2,515.2 317.0,516.0C317.8,516.8 317.5,520.0 317.0,522.0C316.5,524.0 315.5,526.3 314.0,528.0C312.5,529.7 310.2,531.2 308.0,532.0C305.8,532.8 303.0,533.0 301.0,533.0C299.0,533.0 297.0,532.8 296.0,532.0C295.0,531.2 294.7,529.5 295.0,528.0Z" fill="#a8273e"/>
<path d="M266.0,563.0C266.7,561.8 269.2,561.2 271.0,560.0C272.8,558.8 275.3,557.7 277.0,556.0C278.7,554.3 279.5,552.0 281.0,550.0C282.5,548.0 284.7,545.8 286.0,544.0C287.3,542.2 287.5,540.0 289.0,539.0C290.5,538.0 293.3,537.7 295.0,538.0C296.7,538.3 298.5,539.7 299.0,541.0C299.5,542.3 298.7,544.5 298.0,546.0C297.3,547.5 295.5,548.3 295.0,550.0C294.5,551.7 295.7,554.2 295.0,556.0C294.3,557.8 292.8,559.8 291.0,561.0C289.2,562.2 286.3,562.3 284.0,563.0C281.7,563.7 279.2,564.3 277.0,565.0C274.8,565.7 272.7,566.7 271.0,567.0C269.3,567.3 267.8,567.7 267.0,567.0C266.2,566.3 265.3,564.2 266.0,563.0Z" fill="#a8273e"/>
<path d="M98.0,527.0C98.3,525.7 100.0,524.5 102.0,524.0C104.0,523.5 108.0,523.8 110.0,524.0C112.0,524.2 113.5,524.0 114.0,525.0C114.5,526.0 113.7,528.2 113.0,530.0C112.3,531.8 110.8,534.0 110.0,536.0C109.2,538.0 108.8,540.8 108.0,542.0C107.2,543.2 105.8,543.8 105.0,543.0C104.2,542.2 103.8,538.8 103.0,537.0C102.2,535.2 100.8,533.7 100.0,532.0C99.2,530.3 97.7,528.3 98.0,527.0Z" fill="#a8273e"/>
<path d="M126.0,553.0C126.3,551.3 127.3,550.5 129.0,550.0C130.7,549.5 134.0,549.7 136.0,550.0C138.0,550.3 140.2,550.7 141.0,552.0C141.8,553.3 141.5,556.3 141.0,558.0C140.5,559.7 139.5,561.5 138.0,562.0C136.5,562.5 133.8,561.3 132.0,561.0C130.2,560.7 128.0,561.3 127.0,560.0C126.0,558.7 125.7,554.7 126.0,553.0Z" fill="#a8273e"/>
<path d="M89.0,569.0C89.5,567.8 91.2,566.5 93.0,566.0C94.8,565.5 98.3,565.8 100.0,566.0C101.7,566.2 102.5,566.0 103.0,567.0C103.5,568.0 103.5,570.5 103.0,572.0C102.5,573.5 101.5,575.3 100.0,576.0C98.5,576.7 95.7,576.5 94.0,576.0C92.3,575.5 90.8,574.2 90.0,573.0C89.2,571.8 88.5,570.2 89.0,569.0Z" fill="#a8273e"/>
<path d="M148.0,545.0C148.3,543.7 151.7,544.0 154.0,544.0C156.3,544.0 159.7,545.3 162.0,545.0C164.3,544.7 166.3,543.5 168.0,542.0C169.7,540.5 170.3,537.0 172.0,536.0C173.7,535.0 175.7,535.8 178.0,536.0C180.3,536.2 184.2,536.5 186.0,537.0C187.8,537.5 189.7,538.2 189.0,539.0C188.3,539.8 184.0,541.0 182.0,542.0C180.0,543.0 178.0,543.7 177.0,545.0C176.0,546.3 176.8,548.5 176.0,550.0C175.2,551.5 173.3,552.5 172.0,554.0C170.7,555.5 169.5,557.5 168.0,559.0C166.5,560.5 164.5,562.7 163.0,563.0C161.5,563.3 160.5,561.8 159.0,561.0C157.5,560.2 155.2,559.5 154.0,558.0C152.8,556.5 153.0,554.2 152.0,552.0C151.0,549.8 147.7,546.3 148.0,545.0Z" fill="#a8273e"/>
<path d="M202.0,571.0C202.3,569.0 204.7,567.7 206.0,566.0C207.3,564.3 208.3,561.7 210.0,561.0C211.7,560.3 214.2,561.2 216.0,562.0C217.8,562.8 219.5,564.3 221.0,566.0C222.5,567.7 225.0,570.3 225.0,572.0C225.0,573.7 222.7,574.7 221.0,576.0C219.3,577.3 217.2,579.2 215.0,580.0C212.8,580.8 209.8,581.3 208.0,581.0C206.2,580.7 205.0,579.7 204.0,578.0C203.0,576.3 201.7,573.0 202.0,571.0Z" fill="#a8273e"/>
<path d="M379.0,590.6C379.8,589.3 382.2,585.6 384.0,583.0C385.8,580.4 388.3,578.0 390.0,575.0C391.7,572.0 392.7,567.2 394.0,565.0C395.3,562.8 395.7,562.8 398.0,562.0C400.3,561.2 405.0,560.7 408.0,560.0C411.0,559.3 413.7,559.0 416.0,558.0C418.3,557.0 420.0,555.3 422.0,554.0C424.0,552.7 425.5,550.9 428.0,550.0C430.5,549.1 434.7,548.9 437.0,548.6C439.3,548.3 440.0,548.3 442.0,548.0C444.0,547.7 447.0,546.7 449.0,547.0C451.0,547.3 452.2,548.8 454.0,550.0C455.8,551.2 458.3,552.5 460.0,554.0C461.7,555.5 462.3,557.7 464.0,559.0C465.7,560.3 467.7,561.2 470.0,562.0C472.3,562.8 475.3,563.2 478.0,564.0C480.7,564.8 483.3,565.7 486.0,567.0C488.7,568.3 491.7,570.5 494.0,572.0C496.3,573.5 497.7,574.8 500.0,576.0C502.3,577.2 505.0,578.0 508.0,579.0C511.0,580.0 514.3,581.2 518.0,582.0C521.7,582.8 527.0,584.0 530.0,584.0C533.0,584.0 534.0,583.0 536.0,582.0C538.0,581.0 539.3,578.7 542.0,578.0C544.7,577.3 548.0,577.8 552.0,578.0C556.0,578.2 562.0,579.2 566.0,579.0C570.0,578.8 572.7,577.7 576.0,577.0C579.3,576.3 583.0,575.7 586.0,575.0C589.0,574.3 591.0,573.2 594.0,573.0C597.0,572.8 601.3,573.7 604.0,574.0C606.7,574.3 608.7,575.8 610.0,575.0C611.3,574.2 610.8,570.5 612.0,569.0C613.2,567.5 615.3,566.0 617.0,566.0C618.7,566.0 619.8,568.2 622.0,569.0C624.2,569.8 627.3,570.2 630.0,571.0C632.7,571.8 635.0,572.8 638.0,574.0C641.0,575.2 644.7,576.8 648.0,578.0C651.3,579.2 655.0,580.2 658.0,581.0C661.0,581.8 663.3,582.2 666.0,583.0C668.7,583.8 670.7,585.3 674.0,586.0C677.3,586.7 682.8,586.2 686.0,587.0C689.2,587.8 691.8,590.0 693.0,590.6L693,590.5 L379,590.5Z" fill="#b3b5b5"/>
<path d="M439.0,550.0C438.8,549.0 440.3,548.5 442.0,548.0C443.7,547.5 447.0,546.8 449.0,547.0C451.0,547.2 453.3,548.0 454.0,549.0C454.7,550.0 454.0,552.0 453.0,553.0C452.0,554.0 449.7,554.8 448.0,555.0C446.3,555.2 444.5,554.8 443.0,554.0C441.5,553.2 439.2,551.0 439.0,550.0Z" fill="#03508d" stroke-width="0.8"/>
<path d="M612.0,570.0C612.5,569.0 614.8,567.5 616.0,567.0C617.2,566.5 618.2,566.5 619.0,567.0C619.8,567.5 620.3,568.8 621.0,570.0C621.7,571.2 623.8,573.2 623.0,574.0C622.2,574.8 617.7,575.2 616.0,575.0C614.3,574.8 613.7,573.8 613.0,573.0C612.3,572.2 611.5,571.0 612.0,570.0Z" fill="#03508d" stroke-width="0.8"/>
</g>
<path d="M69,492.6 H341.4 V581" fill="none" stroke="#8a8a8a" stroke-width="1"/>
<g font-size="14.3" text-anchor="middle" word-spacing="-1.9">
<text x="300" y="117.5" fill="#1d3b59">-9,1 %</text>
<text x="362" y="123.5" fill="#ffffff">-8,0 %</text>
<text x="440" y="110.5" fill="#1d3b59">-9,0 %</text>
<text x="543" y="114.5" fill="#1d3b59">-9,2 %</text>
<text x="610" y="91.5" fill="#3a3a3a">-9,0 %</text>
<text x="670" y="96.5" fill="#3a3a3a">-8,3 %</text>
<text x="306" y="155.5" fill="#1d3b59">-9,2 %</text>
<text x="359" y="175.5" fill="#1d3b59">-8,9 %</text>
<text x="439" y="153.5" fill="#1d3b59">-8,2 %</text>
<text x="520" y="154.5" fill="#1d3b59">-8,3 %</text>
<text x="575" y="158.5" fill="#1d3b59">-8,4 %</text>
<text x="616" y="137.5" fill="#1d3b59">-8,1 %</text>
<text x="628" y="168.5" fill="#1d3b59">-8,8 %</text>
<text x="678" y="144.5" fill="#1d3b59">-8,3 %</text>
<text x="760" y="164.5" fill="#1d3b59">-8,3 %</text>
<text x="831" y="164.5" fill="#ffffff">-8,0 %</text>
<text x="930" y="161.5" fill="#ffffff">-14,2 %</text>
<text x="885" y="194.5" fill="#3a2c2e">-11,7 %</text>
<text x="437" y="198.5" fill="#ffffff">-6,4 %</text>
<text x="502" y="202.5" fill="#1d3b59">-9,3 %</text>
<text x="626" y="208.5" fill="#ffffff">-6,7 %</text>
<text x="712" y="204.5" fill="#1d3b59">-8,7 %</text>
<text x="826" y="232.5" fill="#3a2c2e">-11,4 %</text>
<text x="547" y="230.5" fill="#1d3b59">-8,1 %</text>
<text x="428" y="248.5" fill="#1d3b59">-9,4 %</text>
<text x="636" y="251.5" fill="#ffffff">-6,5 %</text>
<text x="727" y="262.5" fill="#ffffff">-7,0 %</text>
<text x="493" y="275.5" fill="#1d3b59">-8,4 %</text>
<text x="566" y="274.5" fill="#3a2c2e">-10,5 %</text>
<text x="774" y="289.5" fill="#1d3b59">-8,3 %</text>
<text x="435" y="313.5" fill="#ffffff">-5,3 %</text>
<text x="537" y="310.5" fill="#ffffff">-6,7 %</text>
<text x="651" y="301.5" fill="#ffffff">-6,4 %</text>
<text x="737" y="334.5" fill="#1d3b59">-9,4 %</text>
<text x="946" y="328.5" fill="#3a3a3a">-27,0 %</text>
<text x="551" y="364.5" fill="#ffffff">-5,7 %</text>
<text x="670" y="364.5" fill="#ffffff">-7,4 %</text>
<text x="413" y="382.5" fill="#ffffff">-5,3 %</text>
<text x="760" y="387.5" fill="#ffffff">-13,5 %</text>
<text x="503" y="415.5" fill="#3a2c2e">-10,2 %</text>
<text x="584" y="419.5" fill="#1d3b59">-8,7 %</text>
<text x="695" y="415.5" fill="#1d3b59">-8,2 %</text>
<text x="375" y="450.5" fill="#1d3b59">-9,5 %</text>
<text x="449" y="456.5" fill="#3a2c2e">-10,7 %</text>
<text x="580" y="469.5" fill="#ffffff">-12,6 %</text>
<text x="658" y="462.5" fill="#1d3b59">-9,1 %</text>
<text x="514" y="486.5" fill="#ffffff">-17,0 %</text>
<text x="445" y="509.5" fill="#ffffff">-12,4 %</text>
<text x="160" y="515.5" fill="#3a3a3a">-19,0 %</text>
<text x="268" y="532.5" fill="#3a3a3a">-21,0 %</text>
<text x="492" y="553.5" fill="#3a3a3a">-4,0 %</text>
<text x="656" y="560.5" fill="#3a3a3a">-4,0 %</text>
</g>
<text x="833.4" y="466" font-size="17.3" text-anchor="middle" fill="#333">España</text>
<text x="833.5" y="486" font-size="17.3" letter-spacing="0.9" text-anchor="middle" fill="#333">-11%</text>
<rect x="908" y="413.0" width="34.3" height="11.3" fill="#03508d"/>
<text x="949" y="423.3" font-size="13.4" fill="#333" stroke="#333" stroke-width="0.25" textLength="110.5" lengthAdjust="spacingAndGlyphs">POR ENCIMA DE -6 %</text>
<rect x="908" y="437.3" width="34.3" height="11.3" fill="#3f86c5"/>
<text x="949" y="447.6" font-size="13.4" fill="#333" stroke="#333" stroke-width="0.25" textLength="79.4" lengthAdjust="spacingAndGlyphs">DE -8 % A -6 %</text>
<rect x="908" y="461.6" width="34.3" height="11.3" fill="#a8d3ef"/>
<text x="949" y="471.9" font-size="13.4" fill="#333" stroke="#333" stroke-width="0.25" textLength="86.5" lengthAdjust="spacingAndGlyphs">DE -10 % A -8 %</text>
<rect x="908" y="485.9" width="34.3" height="11.3" fill="#f3c5cc"/>
<text x="949" y="496.2" font-size="13.4" fill="#333" stroke="#333" stroke-width="0.25" textLength="93.2" lengthAdjust="spacingAndGlyphs">DE -12 % A -10 %</text>
<rect x="908" y="510.2" width="34.3" height="11.3" fill="#dc6b79"/>
<text x="949" y="520.5" font-size="13.4" fill="#333" stroke="#333" stroke-width="0.25" textLength="93.2" lengthAdjust="spacingAndGlyphs">DE -14 % A -12 %</text>
<rect x="908" y="534.5" width="34.3" height="11.3" fill="#a8273e"/>
<text x="949" y="544.8" font-size="13.4" fill="#333" stroke="#333" stroke-width="0.25" textLength="118.8" lengthAdjust="spacingAndGlyphs">POR DEBAJO DE -14 %</text>
<text x="57" y="39.75" font-size="13.81" fill="#222">ESTIMACIÓN DE LA VARIACIÓN INTERANUAL DEL PIB DE 2020 POR PROVINCIAS</text>
<text x="39.4" y="673.75" font-size="17.37" fill="#222"><tspan font-weight="bold">FUENTES:</tspan> Ministerio de Inclusión, Seguridad Social y Migraciones, INE y Banco de España.</text>
<rect x="39.75" y="697.3" width="1145.75" height="2.5" fill="#8f4b5d"/>
</svg></body></html>
